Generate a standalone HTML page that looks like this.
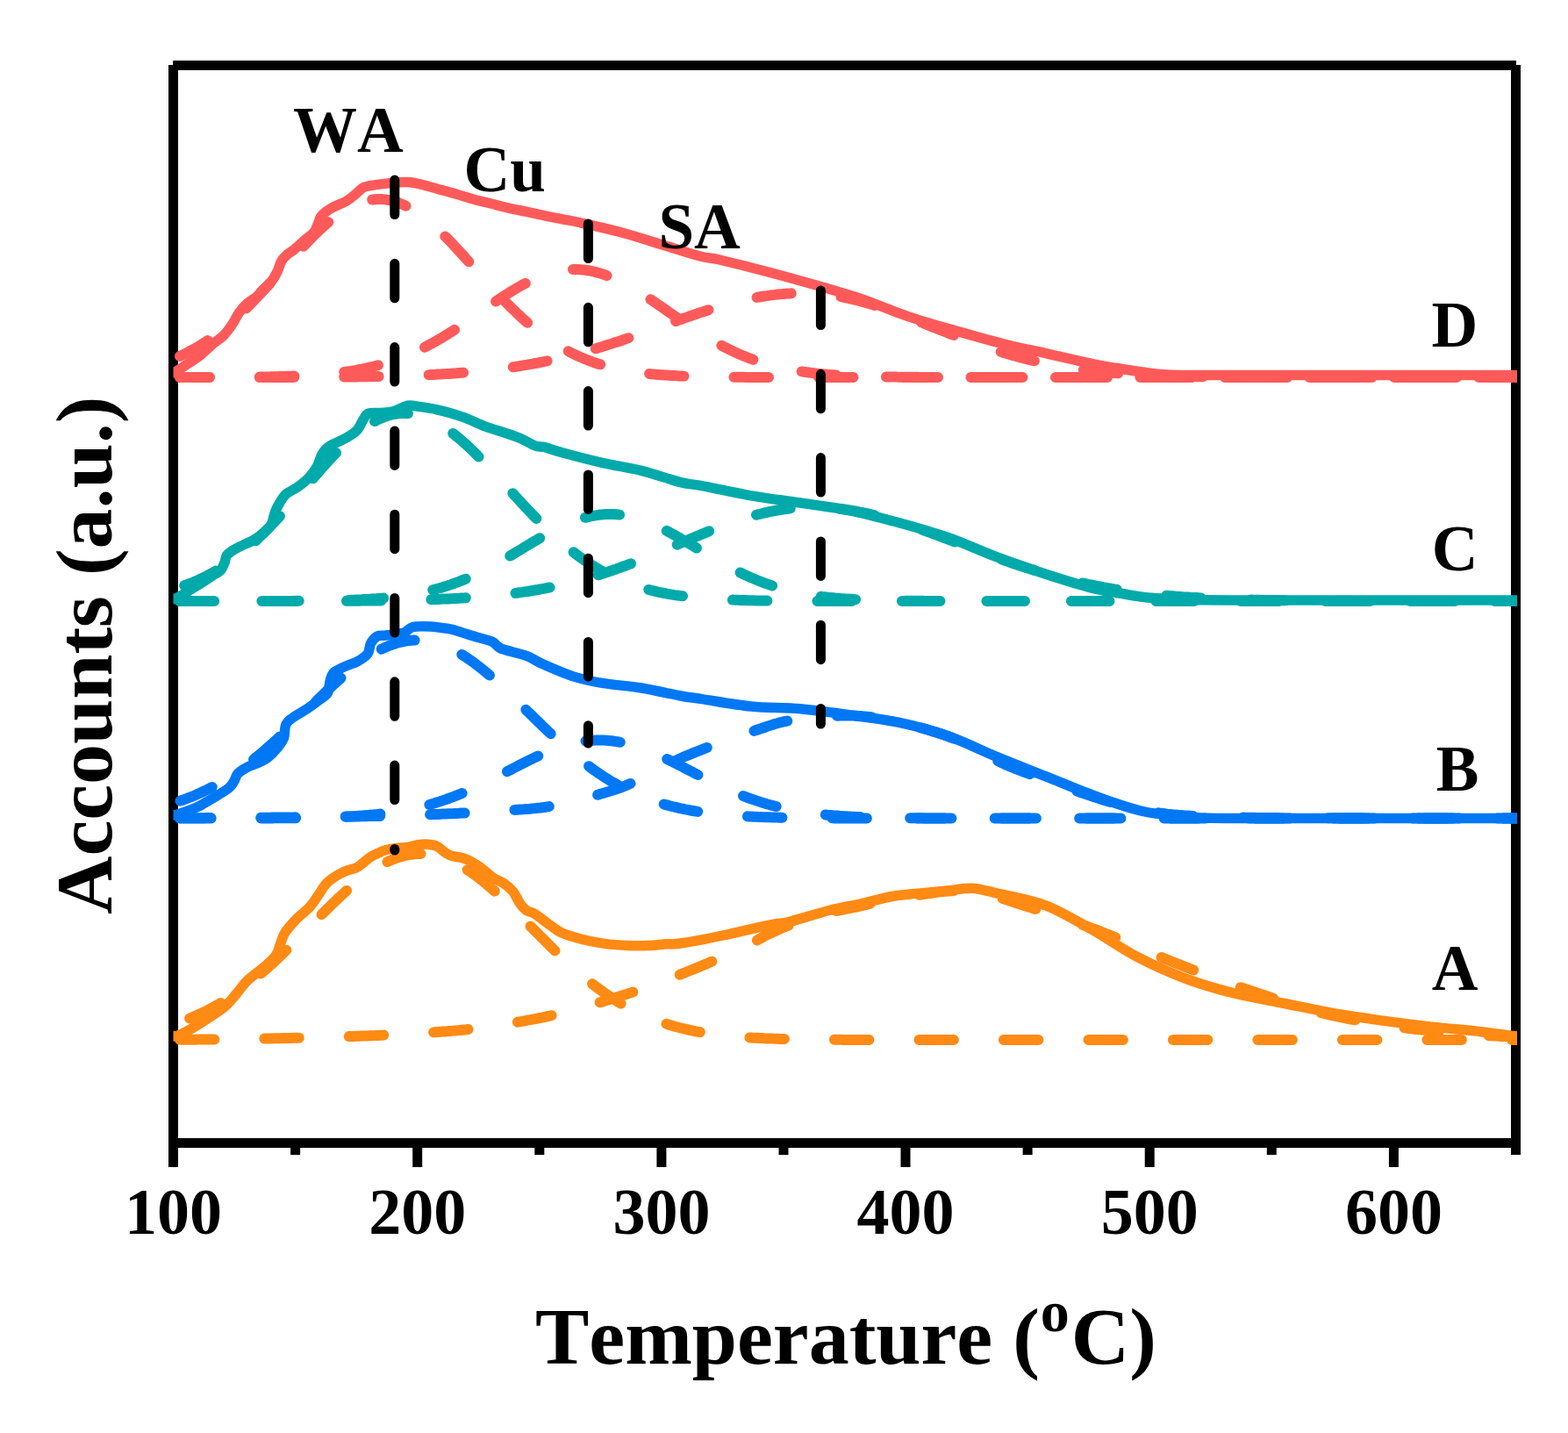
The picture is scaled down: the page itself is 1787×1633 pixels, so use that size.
<!DOCTYPE html>
<html><head><meta charset="utf-8"><title>TPD</title>
<style>html,body{margin:0;padding:0;background:#fff;overflow:hidden;}svg{display:block;} text{font-kerning:none;}</style>
</head><body>
<svg width="1787" height="1633" viewBox="0 0 1787 1633">
<rect width="1787" height="1633" fill="#fff"/>
<rect x="192" y="74" width="11" height="1256" fill="#000"/>
<rect x="197" y="69" width="1531" height="11" fill="#000"/>
<rect x="1722" y="74" width="11" height="1242" fill="#000"/>
<rect x="192" y="1297" width="1541" height="11" fill="#000"/>
<rect x="470.2" y="1302" width="11" height="28" fill="#000"/>
<rect x="748.4" y="1302" width="11" height="28" fill="#000"/>
<rect x="1026.5" y="1302" width="11" height="28" fill="#000"/>
<rect x="1304.7" y="1302" width="11" height="28" fill="#000"/>
<rect x="1582.9" y="1302" width="11" height="28" fill="#000"/>
<rect x="331.1" y="1302" width="11" height="14" fill="#000"/>
<rect x="609.3" y="1302" width="11" height="14" fill="#000"/>
<rect x="887.5" y="1302" width="11" height="14" fill="#000"/>
<rect x="1165.6" y="1302" width="11" height="14" fill="#000"/>
<rect x="1443.8" y="1302" width="11" height="14" fill="#000"/>
<defs><clipPath id="pc"><rect x="197.5" y="60" width="1531.5" height="1260"/></clipPath></defs>
<g fill="none" stroke="#FF8A14" stroke-width="12" clip-path="url(#pc)">
<path stroke-dasharray="39.5 57" stroke-linecap="round" stroke-linejoin="round" stroke-dashoffset="-11.8" d="M205.0,1164.7 L208.0,1163.6 L211.0,1162.5 L214.0,1161.4 L217.0,1160.2 L220.0,1158.9 L223.0,1157.6 L226.0,1156.3 L229.0,1154.9 L232.0,1153.5 L235.0,1152.0 L238.0,1150.5 L241.0,1148.9 L244.0,1147.2 L247.0,1145.6 L250.0,1143.8 L253.0,1142.0 L256.0,1140.2 L259.0,1138.3 L262.0,1136.3 L265.0,1134.3 L268.0,1132.3 L271.0,1130.1 L274.0,1128.0 L277.0,1125.8 L280.0,1123.5 L283.0,1121.2 L286.0,1118.8 L289.0,1116.4 L292.0,1113.9 L295.0,1111.4 L298.0,1108.8 L301.0,1106.2 L304.0,1103.6 L307.0,1100.9 L310.0,1098.2 L313.0,1095.4 L316.0,1092.6 L319.0,1089.7 L322.0,1086.9 L325.0,1084.0 L328.0,1081.0 L331.0,1078.1 L334.0,1075.1 L337.0,1072.1 L340.0,1069.1 L343.0,1066.1 L346.0,1063.0 L349.0,1060.0 L352.0,1056.9 L355.0,1053.9 L358.0,1050.8 L361.0,1047.8 L364.0,1044.8 L367.0,1041.7 L370.0,1038.7 L373.0,1035.8 L376.0,1032.8 L379.0,1029.9 L382.0,1027.0 L385.0,1024.1 L388.0,1021.3 L391.0,1018.6 L394.0,1015.8 L397.0,1013.2 L400.0,1010.6 L403.0,1008.0 L406.0,1005.5 L409.0,1003.1 L412.0,1000.7 L415.0,998.5 L418.0,996.3 L421.0,994.2 L424.0,992.1 L427.0,990.2 L430.0,988.3 L433.0,986.6 L436.0,984.9 L439.0,983.3 L442.0,981.9 L445.0,980.5 L448.0,979.3 L451.0,978.1 L454.0,977.1 L457.0,976.2 L460.0,975.4 L463.0,974.7 L466.0,974.1 L469.0,973.7 L472.0,973.3 L475.0,973.1 L478.0,973.0 L481.0,973.0 L484.0,973.2 L487.0,973.4 L490.0,973.8 L493.0,974.3 L496.0,974.9 L499.0,975.6 L502.0,976.5 L505.0,977.4 L508.0,978.5 L511.0,979.7 L514.0,981.0 L517.0,982.4 L520.0,983.8 L523.0,985.4 L526.0,987.1 L529.0,988.9 L532.0,990.8 L535.0,992.8 L538.0,994.8 L541.0,997.0 L544.0,999.2 L547.0,1001.5 L550.0,1003.9 L553.0,1006.3 L556.0,1008.9 L559.0,1011.4 L562.0,1014.1 L565.0,1016.7 L568.0,1019.5 L571.0,1022.3 L574.0,1025.1 L577.0,1028.0 L580.0,1030.9 L583.0,1033.8 L586.0,1036.8 L589.0,1039.7 L592.0,1042.7 L595.0,1045.8 L598.0,1048.8 L601.0,1051.8 L604.0,1054.9 L607.0,1057.9 L610.0,1061.0 L613.0,1064.0 L616.0,1067.1 L619.0,1070.1 L622.0,1073.1 L625.0,1076.1 L628.0,1079.1 L631.0,1082.0 L634.0,1084.9 L637.0,1087.8 L640.0,1090.7 L643.0,1093.5 L646.0,1096.3 L649.0,1099.1 L652.0,1101.8 L655.0,1104.5 L658.0,1107.1 L661.0,1109.7 L664.0,1112.2 L667.0,1114.7 L670.0,1117.2 L673.0,1119.6 L676.0,1121.9 L679.0,1124.3 L682.0,1126.5 L685.0,1128.7 L688.0,1130.9 L691.0,1132.9 L694.0,1135.0 L697.0,1137.0 L700.0,1138.9 L703.0,1140.8 L706.0,1142.6 L709.0,1144.4 L712.0,1146.1 L715.0,1147.8 L718.0,1149.4 L721.0,1151.0 L724.0,1152.5 L727.0,1154.0 L730.0,1155.4 L733.0,1156.8 L736.0,1158.1 L739.0,1159.4 L742.0,1160.6 L745.0,1161.8 L748.0,1162.9 L751.0,1164.0 L754.0,1165.0 L757.0,1166.1 L760.0,1167.0 L763.0,1167.9 L766.0,1168.8 L769.0,1169.7 L772.0,1170.5 L775.0,1171.3 L778.0,1172.0 L781.0,1172.7 L784.0,1173.4 L787.0,1174.1 L790.0,1174.7 L793.0,1175.3 L796.0,1175.8 L799.0,1176.4 L802.0,1176.9 L805.0,1177.3 L808.0,1177.8 L811.0,1178.2 L814.0,1178.6 L817.0,1179.0 L820.0,1179.4 L823.0,1179.7 L826.0,1180.1 L829.0,1180.4 L832.0,1180.7 L835.0,1181.0 L838.0,1181.2 L841.0,1181.5 L844.0,1181.7 L847.0,1181.9 L850.0,1182.1 L853.0,1182.3 L856.0,1182.5 L859.0,1182.7 L862.0,1182.8 L865.0,1183.0 L868.0,1183.1 L871.0,1183.3 L874.0,1183.4 L877.0,1183.5 L880.0,1183.6 L883.0,1183.7 L886.0,1183.8 L889.0,1183.9 L892.0,1184.0 L895.0,1184.0 L898.0,1184.1 L901.0,1184.2 L904.0,1184.2 L907.0,1184.3 L910.0,1184.4 L913.0,1184.4 L916.0,1184.5 L919.0,1184.5 L922.0,1184.5 L925.0,1184.6 L928.0,1184.6 L931.0,1184.6 L934.0,1184.7 L937.0,1184.7 L940.0,1184.7 L943.0,1184.7 L946.0,1184.8 L949.0,1184.8 L952.0,1184.8 L955.0,1184.8 L958.0,1184.8 L961.0,1184.9 L964.0,1184.9 L967.0,1184.9 L970.0,1184.9 L973.0,1184.9 L976.0,1184.9 L979.0,1184.9 L982.0,1184.9 L985.0,1184.9 L988.0,1184.9 L991.0,1184.9 L994.0,1184.9 L997.0,1185.0 L1000.0,1185.0 L1003.0,1185.0 L1006.0,1185.0 L1009.0,1185.0 L1012.0,1185.0 L1015.0,1185.0 L1018.0,1185.0 L1021.0,1185.0 L1024.0,1185.0 L1027.0,1185.0 L1030.0,1185.0 L1033.0,1185.0 L1036.0,1185.0 L1039.0,1185.0 L1042.0,1185.0 L1045.0,1185.0 L1048.0,1185.0 L1051.0,1185.0 L1054.0,1185.0 L1057.0,1185.0 L1060.0,1185.0 L1063.0,1185.0 L1066.0,1185.0 L1069.0,1185.0 L1072.0,1185.0 L1075.0,1185.0 L1078.0,1185.0 L1081.0,1185.0 L1084.0,1185.0 L1087.0,1185.0 L1090.0,1185.0 L1093.0,1185.0 L1096.0,1185.0 L1099.0,1185.0 L1102.0,1185.0 L1105.0,1185.0 L1108.0,1185.0 L1111.0,1185.0 L1114.0,1185.0 L1117.0,1185.0 L1120.0,1185.0 L1123.0,1185.0 L1126.0,1185.0 L1129.0,1185.0 L1132.0,1185.0 L1135.0,1185.0 L1138.0,1185.0 L1141.0,1185.0 L1144.0,1185.0 L1147.0,1185.0 L1150.0,1185.0 L1153.0,1185.0 L1156.0,1185.0 L1159.0,1185.0 L1162.0,1185.0 L1165.0,1185.0 L1168.0,1185.0 L1171.0,1185.0 L1174.0,1185.0 L1177.0,1185.0 L1180.0,1185.0 L1183.0,1185.0 L1186.0,1185.0 L1189.0,1185.0 L1192.0,1185.0 L1195.0,1185.0 L1198.0,1185.0 L1201.0,1185.0 L1204.0,1185.0 L1207.0,1185.0 L1210.0,1185.0 L1213.0,1185.0 L1216.0,1185.0 L1219.0,1185.0 L1222.0,1185.0 L1225.0,1185.0 L1228.0,1185.0 L1231.0,1185.0 L1234.0,1185.0 L1237.0,1185.0 L1240.0,1185.0 L1243.0,1185.0 L1246.0,1185.0 L1249.0,1185.0 L1252.0,1185.0 L1255.0,1185.0 L1258.0,1185.0 L1261.0,1185.0 L1264.0,1185.0 L1267.0,1185.0 L1270.0,1185.0 L1273.0,1185.0 L1276.0,1185.0 L1279.0,1185.0 L1282.0,1185.0 L1285.0,1185.0 L1288.0,1185.0 L1291.0,1185.0 L1294.0,1185.0 L1297.0,1185.0 L1300.0,1185.0 L1303.0,1185.0 L1306.0,1185.0 L1309.0,1185.0 L1312.0,1185.0 L1315.0,1185.0 L1318.0,1185.0 L1321.0,1185.0 L1324.0,1185.0 L1327.0,1185.0 L1330.0,1185.0 L1333.0,1185.0 L1336.0,1185.0 L1339.0,1185.0 L1342.0,1185.0 L1345.0,1185.0 L1348.0,1185.0 L1351.0,1185.0 L1354.0,1185.0 L1357.0,1185.0 L1360.0,1185.0 L1363.0,1185.0 L1366.0,1185.0 L1369.0,1185.0 L1372.0,1185.0 L1375.0,1185.0 L1378.0,1185.0 L1381.0,1185.0 L1384.0,1185.0 L1387.0,1185.0 L1390.0,1185.0 L1393.0,1185.0 L1396.0,1185.0 L1399.0,1185.0 L1402.0,1185.0 L1405.0,1185.0 L1408.0,1185.0 L1411.0,1185.0 L1414.0,1185.0 L1417.0,1185.0 L1420.0,1185.0 L1423.0,1185.0 L1426.0,1185.0 L1429.0,1185.0 L1432.0,1185.0 L1435.0,1185.0 L1438.0,1185.0 L1441.0,1185.0 L1444.0,1185.0 L1447.0,1185.0 L1450.0,1185.0 L1453.0,1185.0 L1456.0,1185.0 L1459.0,1185.0 L1462.0,1185.0 L1465.0,1185.0 L1468.0,1185.0 L1471.0,1185.0 L1474.0,1185.0 L1477.0,1185.0 L1480.0,1185.0 L1483.0,1185.0 L1486.0,1185.0 L1489.0,1185.0 L1492.0,1185.0 L1495.0,1185.0 L1498.0,1185.0 L1501.0,1185.0 L1504.0,1185.0 L1507.0,1185.0 L1510.0,1185.0 L1513.0,1185.0 L1516.0,1185.0 L1519.0,1185.0 L1522.0,1185.0 L1525.0,1185.0 L1528.0,1185.0 L1531.0,1185.0 L1534.0,1185.0 L1537.0,1185.0 L1540.0,1185.0 L1543.0,1185.0 L1546.0,1185.0 L1549.0,1185.0 L1552.0,1185.0 L1555.0,1185.0 L1558.0,1185.0 L1561.0,1185.0 L1564.0,1185.0 L1567.0,1185.0 L1570.0,1185.0 L1573.0,1185.0 L1576.0,1185.0 L1579.0,1185.0 L1582.0,1185.0 L1585.0,1185.0 L1588.0,1185.0 L1591.0,1185.0 L1594.0,1185.0 L1597.0,1185.0 L1600.0,1185.0 L1603.0,1185.0 L1606.0,1185.0 L1609.0,1185.0 L1612.0,1185.0 L1615.0,1185.0 L1618.0,1185.0 L1621.0,1185.0 L1624.0,1185.0 L1627.0,1185.0 L1630.0,1185.0 L1633.0,1185.0 L1636.0,1185.0 L1639.0,1185.0 L1642.0,1185.0 L1645.0,1185.0 L1648.0,1185.0 L1651.0,1185.0 L1654.0,1185.0 L1657.0,1185.0 L1660.0,1185.0 L1663.0,1185.0 L1666.0,1185.0 L1669.0,1185.0 L1672.0,1185.0 L1675.0,1185.0 L1678.0,1185.0 L1681.0,1185.0 L1684.0,1185.0 L1687.0,1185.0 L1690.0,1185.0 L1693.0,1185.0 L1696.0,1185.0 L1699.0,1185.0 L1702.0,1185.0 L1705.0,1185.0 L1708.0,1185.0 L1711.0,1185.0 L1714.0,1185.0 L1717.0,1185.0 L1720.0,1185.0 L1723.0,1185.0 L1726.0,1185.0 L1729.0,1185.0 L1729.0,1185.0"/>
<path stroke-dasharray="39.5 57" stroke-linecap="round" stroke-linejoin="round" stroke-dashoffset="0.2" d="M205.0,1184.7 L208.0,1184.7 L211.0,1184.7 L214.0,1184.7 L217.0,1184.7 L220.0,1184.7 L223.0,1184.7 L226.0,1184.6 L229.0,1184.6 L232.0,1184.6 L235.0,1184.6 L238.0,1184.6 L241.0,1184.5 L244.0,1184.5 L247.0,1184.5 L250.0,1184.4 L253.0,1184.4 L256.0,1184.4 L259.0,1184.3 L262.0,1184.3 L265.0,1184.2 L268.0,1184.2 L271.0,1184.1 L274.0,1184.1 L277.0,1184.0 L280.0,1184.0 L283.0,1183.9 L286.0,1183.9 L289.0,1183.8 L292.0,1183.8 L295.0,1183.7 L298.0,1183.7 L301.0,1183.6 L304.0,1183.5 L307.0,1183.5 L310.0,1183.4 L313.0,1183.3 L316.0,1183.3 L319.0,1183.2 L322.0,1183.1 L325.0,1183.1 L328.0,1183.0 L331.0,1182.9 L334.0,1182.8 L337.0,1182.8 L340.0,1182.7 L343.0,1182.6 L346.0,1182.5 L349.0,1182.4 L352.0,1182.4 L355.0,1182.3 L358.0,1182.2 L361.0,1182.1 L364.0,1182.0 L367.0,1181.9 L370.0,1181.9 L373.0,1181.8 L376.0,1181.7 L379.0,1181.6 L382.0,1181.5 L385.0,1181.4 L388.0,1181.3 L391.0,1181.3 L394.0,1181.2 L397.0,1181.1 L400.0,1181.0 L403.0,1180.9 L406.0,1180.8 L409.0,1180.7 L412.0,1180.6 L415.0,1180.5 L418.0,1180.4 L421.0,1180.3 L424.0,1180.2 L427.0,1180.1 L430.0,1179.9 L433.0,1179.8 L436.0,1179.7 L439.0,1179.5 L442.0,1179.4 L445.0,1179.3 L448.0,1179.1 L451.0,1179.0 L454.0,1178.8 L457.0,1178.7 L460.0,1178.5 L463.0,1178.3 L466.0,1178.2 L469.0,1178.0 L472.0,1177.8 L475.0,1177.6 L478.0,1177.4 L481.0,1177.3 L484.0,1177.1 L487.0,1176.9 L490.0,1176.7 L493.0,1176.5 L496.0,1176.2 L499.0,1176.0 L502.0,1175.8 L505.0,1175.6 L508.0,1175.4 L511.0,1175.1 L514.0,1174.9 L517.0,1174.6 L520.0,1174.4 L523.0,1174.1 L526.0,1173.8 L529.0,1173.5 L532.0,1173.2 L535.0,1172.8 L538.0,1172.5 L541.0,1172.1 L544.0,1171.7 L547.0,1171.4 L550.0,1171.0 L553.0,1170.5 L556.0,1170.1 L559.0,1169.7 L562.0,1169.3 L565.0,1168.8 L568.0,1168.3 L571.0,1167.9 L574.0,1167.4 L577.0,1166.9 L580.0,1166.4 L583.0,1165.9 L586.0,1165.4 L589.0,1164.9 L592.0,1164.3 L595.0,1163.8 L598.0,1163.3 L601.0,1162.7 L604.0,1162.2 L607.0,1161.6 L610.0,1161.1 L613.0,1160.5 L616.0,1159.9 L619.0,1159.3 L622.0,1158.6 L625.0,1158.0 L628.0,1157.3 L631.0,1156.6 L634.0,1155.9 L637.0,1155.2 L640.0,1154.4 L643.0,1153.7 L646.0,1152.9 L649.0,1152.1 L652.0,1151.3 L655.0,1150.5 L658.0,1149.7 L661.0,1148.9 L664.0,1148.0 L667.0,1147.2 L670.0,1146.3 L673.0,1145.4 L676.0,1144.6 L679.0,1143.7 L682.0,1142.8 L685.0,1141.9 L688.0,1141.0 L691.0,1140.1 L694.0,1139.2 L697.0,1138.3 L700.0,1137.3 L703.0,1136.4 L706.0,1135.5 L709.0,1134.5 L712.0,1133.6 L715.0,1132.6 L718.0,1131.6 L721.0,1130.6 L724.0,1129.6 L727.0,1128.5 L730.0,1127.5 L733.0,1126.4 L736.0,1125.3 L739.0,1124.3 L742.0,1123.2 L745.0,1122.1 L748.0,1121.0 L751.0,1119.8 L754.0,1118.7 L757.0,1117.6 L760.0,1116.4 L763.0,1115.3 L766.0,1114.1 L769.0,1112.9 L772.0,1111.8 L775.0,1110.6 L778.0,1109.4 L781.0,1108.2 L784.0,1107.0 L787.0,1105.8 L790.0,1104.6 L793.0,1103.4 L796.0,1102.1 L799.0,1100.9 L802.0,1099.6 L805.0,1098.4 L808.0,1097.1 L811.0,1095.8 L814.0,1094.5 L817.0,1093.2 L820.0,1091.8 L823.0,1090.5 L826.0,1089.1 L829.0,1087.8 L832.0,1086.4 L835.0,1085.0 L838.0,1083.6 L841.0,1082.2 L844.0,1080.8 L847.0,1079.4 L850.0,1077.9 L853.0,1076.5 L856.0,1075.0 L859.0,1073.5 L862.0,1071.9 L865.0,1070.3 L868.0,1068.6 L871.0,1067.0 L874.0,1065.5 L877.0,1064.0 L880.0,1062.6 L883.0,1061.2 L886.0,1059.8 L889.0,1058.5 L892.0,1057.2 L895.0,1055.9 L898.0,1054.8 L901.0,1053.6 L904.0,1052.5 L907.0,1051.5 L910.0,1050.4 L913.0,1049.4 L916.0,1048.4 L919.0,1047.4 L922.0,1046.4 L925.0,1045.5 L928.0,1044.6 L931.0,1043.7 L934.0,1042.9 L937.0,1042.0 L940.0,1041.2 L943.0,1040.5 L946.0,1039.7 L949.0,1039.0 L952.0,1038.3 L955.0,1037.7 L958.0,1037.1 L961.0,1036.5 L964.0,1035.9 L967.0,1035.3 L970.0,1034.7 L973.0,1034.1 L976.0,1033.5 L979.0,1032.9 L982.0,1032.2 L985.0,1031.5 L988.0,1030.7 L991.0,1030.0 L994.0,1029.2 L997.0,1028.4 L1000.0,1027.6 L1003.0,1026.9 L1006.0,1026.1 L1009.0,1025.4 L1012.0,1024.8 L1015.0,1024.2 L1018.0,1023.7 L1021.0,1023.3 L1024.0,1022.9 L1027.0,1022.5 L1030.0,1022.1 L1033.0,1021.8 L1036.0,1021.4 L1039.0,1021.0 L1042.0,1020.7 L1045.0,1020.3 L1048.0,1019.8 L1051.0,1019.4 L1054.0,1018.9 L1057.0,1018.4 L1060.0,1018.0 L1063.0,1017.5 L1066.0,1017.1 L1069.0,1016.6 L1072.0,1016.3 L1075.0,1015.9 L1078.0,1015.7 L1081.0,1015.4 L1084.0,1015.2 L1087.0,1015.0 L1090.0,1014.8 L1093.0,1014.7 L1096.0,1014.6 L1099.0,1014.5 L1102.0,1014.5 L1105.0,1014.8 L1108.0,1015.2 L1111.0,1015.7 L1114.0,1016.4 L1117.0,1017.1 L1120.0,1017.8 L1123.0,1018.5 L1126.0,1019.2 L1129.0,1020.0 L1132.0,1020.8 L1135.0,1021.6 L1138.0,1022.5 L1141.0,1023.5 L1144.0,1024.4 L1147.0,1025.4 L1150.0,1026.4 L1153.0,1027.4 L1156.0,1028.4 L1159.0,1029.3 L1162.0,1030.3 L1165.0,1031.2 L1168.0,1032.2 L1171.0,1033.1 L1174.0,1034.1 L1177.0,1035.0 L1180.0,1036.0 L1183.0,1036.9 L1186.0,1037.9 L1189.0,1038.9 L1192.0,1039.8 L1195.0,1040.8 L1198.0,1041.8 L1201.0,1042.8 L1204.0,1043.8 L1207.0,1044.8 L1210.0,1045.8 L1213.0,1046.8 L1216.0,1047.8 L1219.0,1048.8 L1222.0,1049.8 L1225.0,1050.9 L1228.0,1051.9 L1231.0,1053.0 L1234.0,1054.0 L1237.0,1055.1 L1240.0,1056.2 L1243.0,1057.3 L1246.0,1058.4 L1249.0,1059.5 L1252.0,1060.6 L1255.0,1061.8 L1258.0,1063.0 L1261.0,1064.2 L1264.0,1065.4 L1267.0,1066.6 L1270.0,1067.8 L1273.0,1069.1 L1276.0,1070.4 L1279.0,1071.7 L1282.0,1073.0 L1285.0,1074.3 L1288.0,1075.6 L1291.0,1076.9 L1294.0,1078.2 L1297.0,1079.5 L1300.0,1080.8 L1303.0,1082.1 L1306.0,1083.4 L1309.0,1084.7 L1312.0,1086.0 L1315.0,1087.3 L1318.0,1088.6 L1321.0,1089.9 L1324.0,1091.1 L1327.0,1092.4 L1330.0,1093.6 L1333.0,1094.8 L1336.0,1096.0 L1339.0,1097.2 L1342.0,1098.4 L1345.0,1099.5 L1348.0,1100.7 L1351.0,1101.9 L1354.0,1103.0 L1357.0,1104.2 L1360.0,1105.4 L1363.0,1106.5 L1366.0,1107.7 L1369.0,1108.8 L1372.0,1110.0 L1375.0,1111.1 L1378.0,1112.2 L1381.0,1113.3 L1384.0,1114.5 L1387.0,1115.6 L1390.0,1116.7 L1393.0,1117.8 L1396.0,1118.9 L1399.0,1120.0 L1402.0,1121.0 L1405.0,1122.1 L1408.0,1123.2 L1411.0,1124.2 L1414.0,1125.3 L1417.0,1126.3 L1420.0,1127.3 L1423.0,1128.3 L1426.0,1129.3 L1429.0,1130.3 L1432.0,1131.3 L1435.0,1132.3 L1438.0,1133.3 L1441.0,1134.3 L1444.0,1135.3 L1447.0,1136.3 L1450.0,1137.3 L1453.0,1138.3 L1456.0,1139.3 L1459.0,1140.3 L1462.0,1141.3 L1465.0,1142.3 L1468.0,1143.2 L1471.0,1144.2 L1474.0,1145.1 L1477.0,1146.1 L1480.0,1147.0 L1483.0,1147.9 L1486.0,1148.8 L1489.0,1149.6 L1492.0,1150.5 L1495.0,1151.3 L1498.0,1152.2 L1501.0,1153.0 L1504.0,1153.7 L1507.0,1154.5 L1510.0,1155.2 L1513.0,1155.9 L1516.0,1156.6 L1519.0,1157.3 L1522.0,1157.9 L1525.0,1158.5 L1528.0,1159.2 L1531.0,1159.8 L1534.0,1160.4 L1537.0,1161.0 L1540.0,1161.6 L1543.0,1162.1 L1546.0,1162.7 L1549.0,1163.3 L1552.0,1163.8 L1555.0,1164.4 L1558.0,1164.9 L1561.0,1165.4 L1564.0,1165.9 L1567.0,1166.4 L1570.0,1166.9 L1573.0,1167.4 L1576.0,1167.9 L1579.0,1168.4 L1582.0,1168.8 L1585.0,1169.2 L1588.0,1169.7 L1591.0,1170.1 L1594.0,1170.5 L1597.0,1170.9 L1600.0,1171.3 L1603.0,1171.6 L1606.0,1172.0 L1609.0,1172.3 L1612.0,1172.7 L1615.0,1173.0 L1618.0,1173.3 L1621.0,1173.6 L1624.0,1173.9 L1627.0,1174.2 L1630.0,1174.5 L1633.0,1174.8 L1636.0,1175.1 L1639.0,1175.4 L1642.0,1175.7 L1645.0,1176.0 L1648.0,1176.3 L1651.0,1176.6 L1654.0,1176.8 L1657.0,1177.1 L1660.0,1177.4 L1663.0,1177.6 L1666.0,1177.9 L1669.0,1178.1 L1672.0,1178.4 L1675.0,1178.6 L1678.0,1178.8 L1681.0,1179.1 L1684.0,1179.3 L1687.0,1179.5 L1690.0,1179.7 L1693.0,1179.9 L1696.0,1180.1 L1699.0,1180.3 L1702.0,1180.4 L1705.0,1180.6 L1708.0,1180.7 L1711.0,1180.9 L1714.0,1181.0 L1717.0,1181.1 L1720.0,1181.3 L1723.0,1181.4 L1726.0,1181.5 L1729.0,1181.5 L1729.0,1181.5"/>
<path stroke-width="11.5" stroke-linejoin="round" stroke-linecap="round" d="M198.0,1180.6 C198.6,1180.6 198.7,1181.8 201.7,1180.6 C204.7,1179.4 210.1,1176.9 216.0,1173.5 C221.9,1170.1 230.3,1164.9 237.0,1160.4 C243.7,1156.0 251.0,1151.4 256.4,1146.8 C261.8,1142.2 265.0,1137.5 269.3,1132.6 C273.6,1127.7 276.9,1122.3 282.2,1117.2 C287.5,1112.1 296.0,1106.4 301.4,1101.7 C306.8,1097.0 311.3,1093.2 314.3,1088.9 C317.3,1084.6 317.7,1080.3 319.4,1076.0 C321.1,1071.7 321.6,1067.9 324.6,1063.2 C327.6,1058.5 332.7,1052.6 337.4,1047.7 C342.1,1042.8 348.6,1038.3 352.9,1033.6 C357.2,1028.9 359.8,1024.1 363.2,1019.4 C366.6,1014.7 368.8,1009.6 373.5,1005.3 C378.2,1001.0 386.1,996.4 391.5,993.7 C396.9,991.0 402.4,990.6 406.0,988.9 C409.6,987.2 410.9,985.5 413.4,983.6 C415.8,981.7 418.2,979.4 420.7,977.7 C423.1,976.0 424.9,975.0 428.1,973.5 C431.3,972.0 436.0,969.7 440.0,968.5 C444.0,967.3 447.8,967.0 452.0,966.5 C456.2,966.0 461.3,966.0 465.2,965.4 C469.1,964.8 471.8,963.5 475.2,962.9 C478.6,962.3 481.9,961.8 485.3,961.9 C488.7,962.0 492.9,962.7 495.4,963.4 C497.9,964.1 498.3,964.5 500.4,965.9 C502.5,967.3 505.5,970.4 508.0,972.0 C510.5,973.6 511.8,974.4 515.5,975.5 C519.2,976.6 525.0,976.6 530.0,978.5 C535.0,980.4 540.1,983.4 545.5,987.0 C550.9,990.6 557.4,997.1 562.3,1000.4 C567.1,1003.7 570.9,1004.4 574.6,1007.0 C578.3,1009.6 581.7,1012.2 584.7,1016.0 C587.7,1019.8 590.0,1025.9 592.5,1029.5 C595.0,1033.1 597.2,1035.6 600.0,1037.6 C602.8,1039.5 604.5,1038.4 609.0,1041.2 C613.5,1044.0 621.7,1050.6 626.9,1054.2 C632.1,1057.8 634.3,1060.4 640.3,1063.1 C646.3,1065.8 654.5,1068.2 662.7,1070.3 C670.9,1072.3 680.5,1074.2 689.5,1075.4 C698.5,1076.6 708.2,1077.2 716.4,1077.6 C724.6,1078.0 731.5,1077.9 738.8,1077.6 C746.1,1077.3 754.6,1076.1 760.0,1075.8 C765.4,1075.5 764.2,1076.4 771.3,1075.5 C778.4,1074.6 793.0,1072.1 802.7,1070.3 C812.4,1068.5 820.5,1066.7 829.5,1064.8 C838.5,1062.9 847.4,1060.7 856.4,1058.7 C865.4,1056.7 875.9,1054.4 883.2,1053.0 C890.5,1051.6 889.7,1052.9 900.0,1050.3 C910.3,1047.7 931.4,1040.9 944.8,1037.5 C958.2,1034.1 968.7,1032.7 980.6,1030.0 C992.5,1027.3 1006.0,1023.4 1016.4,1021.5 C1026.8,1019.6 1032.6,1019.5 1043.2,1018.4 C1053.8,1017.3 1069.0,1016.0 1079.8,1015.0 C1090.6,1014.0 1098.5,1011.7 1107.8,1012.2 C1117.1,1012.7 1121.8,1014.5 1135.8,1017.8 C1149.8,1021.1 1173.7,1024.9 1191.7,1031.8 C1209.7,1038.7 1226.6,1049.2 1244.0,1059.0 C1261.4,1068.8 1278.0,1081.0 1296.0,1090.4 C1314.0,1099.8 1333.3,1108.5 1352.0,1115.5 C1370.7,1122.5 1389.3,1127.6 1407.9,1132.3 C1426.5,1137.0 1445.2,1139.8 1463.8,1143.5 C1482.4,1147.2 1501.1,1151.4 1519.8,1154.7 C1538.5,1158.0 1557.1,1160.5 1575.8,1163.1 C1594.5,1165.7 1613.0,1168.0 1631.7,1170.1 C1650.4,1172.2 1671.8,1173.9 1687.7,1175.7 C1703.6,1177.5 1720.1,1180.1 1727.0,1181.0 C1733.9,1181.9 1728.7,1181.0 1729.0,1181.0"/>
</g>
<g fill="none" stroke="#0078F4" stroke-width="12" clip-path="url(#pc)">
<path stroke-dasharray="39.5 57" stroke-linecap="round" stroke-linejoin="round" stroke-dashoffset="-0.5" d="M205.0,912.8 L208.0,911.8 L211.0,910.7 L214.0,909.5 L217.0,908.4 L220.0,907.2 L223.0,905.9 L226.0,904.6 L229.0,903.2 L232.0,901.8 L235.0,900.4 L238.0,898.9 L241.0,897.3 L244.0,895.7 L247.0,894.0 L250.0,892.3 L253.0,890.6 L256.0,888.8 L259.0,886.9 L262.0,885.0 L265.0,883.0 L268.0,881.0 L271.0,878.9 L274.0,876.8 L277.0,874.6 L280.0,872.4 L283.0,870.1 L286.0,867.8 L289.0,865.4 L292.0,863.0 L295.0,860.5 L298.0,858.0 L301.0,855.5 L304.0,852.9 L307.0,850.2 L310.0,847.6 L313.0,844.8 L316.0,842.1 L319.0,839.3 L322.0,836.5 L325.0,833.7 L328.0,830.8 L331.0,828.0 L334.0,825.1 L337.0,822.1 L340.0,819.2 L343.0,816.3 L346.0,813.3 L349.0,810.4 L352.0,807.4 L355.0,804.5 L358.0,801.5 L361.0,798.6 L364.0,795.6 L367.0,792.7 L370.0,789.8 L373.0,787.0 L376.0,784.2 L379.0,781.3 L382.0,778.6 L385.0,775.9 L388.0,773.2 L391.0,770.5 L394.0,767.9 L397.0,765.4 L400.0,762.9 L403.0,760.5 L406.0,758.2 L409.0,755.9 L412.0,753.7 L415.0,751.6 L418.0,749.5 L421.0,747.6 L424.0,745.7 L427.0,743.9 L430.0,742.2 L433.0,740.6 L436.0,739.1 L439.0,737.7 L442.0,736.5 L445.0,735.3 L448.0,734.2 L451.0,733.2 L454.0,732.3 L457.0,731.6 L460.0,731.0 L463.0,730.4 L466.0,730.0 L469.0,729.7 L472.0,729.6 L475.0,729.5 L478.0,729.6 L481.0,729.7 L484.0,730.0 L487.0,730.4 L490.0,731.0 L493.0,731.6 L496.0,732.3 L499.0,733.2 L502.0,734.2 L505.0,735.3 L508.0,736.5 L511.0,737.7 L514.0,739.1 L517.0,740.6 L520.0,742.2 L523.0,743.9 L526.0,745.7 L529.0,747.6 L532.0,749.5 L535.0,751.6 L538.0,753.7 L541.0,755.9 L544.0,758.2 L547.0,760.5 L550.0,762.9 L553.0,765.4 L556.0,767.9 L559.0,770.5 L562.0,773.2 L565.0,775.9 L568.0,778.6 L571.0,781.3 L574.0,784.2 L577.0,787.0 L580.0,789.8 L583.0,792.7 L586.0,795.6 L589.0,798.6 L592.0,801.5 L595.0,804.5 L598.0,807.4 L601.0,810.4 L604.0,813.3 L607.0,816.3 L610.0,819.2 L613.0,822.1 L616.0,825.1 L619.0,828.0 L622.0,830.8 L625.0,833.7 L628.0,836.5 L631.0,839.3 L634.0,842.1 L637.0,844.8 L640.0,847.6 L643.0,850.2 L646.0,852.9 L649.0,855.5 L652.0,858.0 L655.0,860.5 L658.0,863.0 L661.0,865.4 L664.0,867.8 L667.0,870.1 L670.0,872.4 L673.0,874.6 L676.0,876.8 L679.0,878.9 L682.0,881.0 L685.0,883.0 L688.0,885.0 L691.0,886.9 L694.0,888.8 L697.0,890.6 L700.0,892.3 L703.0,894.0 L706.0,895.7 L709.0,897.3 L712.0,898.9 L715.0,900.4 L718.0,901.8 L721.0,903.2 L724.0,904.6 L727.0,905.9 L730.0,907.2 L733.0,908.4 L736.0,909.5 L739.0,910.7 L742.0,911.8 L745.0,912.8 L748.0,913.8 L751.0,914.8 L754.0,915.7 L757.0,916.6 L760.0,917.4 L763.0,918.2 L766.0,919.0 L769.0,919.7 L772.0,920.4 L775.0,921.1 L778.0,921.7 L781.0,922.4 L784.0,922.9 L787.0,923.5 L790.0,924.0 L793.0,924.5 L796.0,925.0 L799.0,925.4 L802.0,925.9 L805.0,926.3 L808.0,926.7 L811.0,927.0 L814.0,927.4 L817.0,927.7 L820.0,928.0 L823.0,928.3 L826.0,928.6 L829.0,928.8 L832.0,929.1 L835.0,929.3 L838.0,929.5 L841.0,929.7 L844.0,929.9 L847.0,930.1 L850.0,930.2 L853.0,930.4 L856.0,930.5 L859.0,930.7 L862.0,930.8 L865.0,930.9 L868.0,931.1 L871.0,931.2 L874.0,931.3 L877.0,931.3 L880.0,931.4 L883.0,931.5 L886.0,931.6 L889.0,931.7 L892.0,931.7 L895.0,931.8 L898.0,931.8 L901.0,931.9 L904.0,931.9 L907.0,932.0 L910.0,932.0 L913.0,932.1 L916.0,932.1 L919.0,932.1 L922.0,932.2 L925.0,932.2 L928.0,932.2 L931.0,932.2 L934.0,932.3 L937.0,932.3 L940.0,932.3 L943.0,932.3 L946.0,932.3 L949.0,932.3 L952.0,932.4 L955.0,932.4 L958.0,932.4 L961.0,932.4 L964.0,932.4 L967.0,932.4 L970.0,932.4 L973.0,932.4 L976.0,932.4 L979.0,932.4 L982.0,932.4 L985.0,932.5 L988.0,932.5 L991.0,932.5 L994.0,932.5 L997.0,932.5 L1000.0,932.5 L1003.0,932.5 L1006.0,932.5 L1009.0,932.5 L1012.0,932.5 L1015.0,932.5 L1018.0,932.5 L1021.0,932.5 L1024.0,932.5 L1027.0,932.5 L1030.0,932.5 L1033.0,932.5 L1036.0,932.5 L1039.0,932.5 L1042.0,932.5 L1045.0,932.5 L1048.0,932.5 L1051.0,932.5 L1054.0,932.5 L1057.0,932.5 L1060.0,932.5 L1063.0,932.5 L1066.0,932.5 L1069.0,932.5 L1072.0,932.5 L1075.0,932.5 L1078.0,932.5 L1081.0,932.5 L1084.0,932.5 L1087.0,932.5 L1090.0,932.5 L1093.0,932.5 L1096.0,932.5 L1099.0,932.5 L1102.0,932.5 L1105.0,932.5 L1108.0,932.5 L1111.0,932.5 L1114.0,932.5 L1117.0,932.5 L1120.0,932.5 L1123.0,932.5 L1126.0,932.5 L1129.0,932.5 L1132.0,932.5 L1135.0,932.5 L1138.0,932.5 L1141.0,932.5 L1144.0,932.5 L1147.0,932.5 L1150.0,932.5 L1153.0,932.5 L1156.0,932.5 L1159.0,932.5 L1162.0,932.5 L1165.0,932.5 L1168.0,932.5 L1171.0,932.5 L1174.0,932.5 L1177.0,932.5 L1180.0,932.5 L1183.0,932.5 L1186.0,932.5 L1189.0,932.5 L1192.0,932.5 L1195.0,932.5 L1198.0,932.5 L1201.0,932.5 L1204.0,932.5 L1207.0,932.5 L1210.0,932.5 L1213.0,932.5 L1216.0,932.5 L1219.0,932.5 L1222.0,932.5 L1225.0,932.5 L1228.0,932.5 L1231.0,932.5 L1234.0,932.5 L1237.0,932.5 L1240.0,932.5 L1243.0,932.5 L1246.0,932.5 L1249.0,932.5 L1252.0,932.5 L1255.0,932.5 L1258.0,932.5 L1261.0,932.5 L1264.0,932.5 L1267.0,932.5 L1270.0,932.5 L1273.0,932.5 L1276.0,932.5 L1279.0,932.5 L1282.0,932.5 L1285.0,932.5 L1288.0,932.5 L1291.0,932.5 L1294.0,932.5 L1297.0,932.5 L1300.0,932.5 L1303.0,932.5 L1306.0,932.5 L1309.0,932.5 L1312.0,932.5 L1315.0,932.5 L1318.0,932.5 L1321.0,932.5 L1324.0,932.5 L1327.0,932.5 L1330.0,932.5 L1333.0,932.5 L1336.0,932.5 L1339.0,932.5 L1342.0,932.5 L1345.0,932.5 L1348.0,932.5 L1351.0,932.5 L1354.0,932.5 L1357.0,932.5 L1360.0,932.5 L1363.0,932.5 L1366.0,932.5 L1369.0,932.5 L1372.0,932.5 L1375.0,932.5 L1378.0,932.5 L1381.0,932.5 L1384.0,932.5 L1387.0,932.5 L1390.0,932.5 L1393.0,932.5 L1396.0,932.5 L1399.0,932.5 L1402.0,932.5 L1405.0,932.5 L1408.0,932.5 L1411.0,932.5 L1414.0,932.5 L1417.0,932.5 L1420.0,932.5 L1423.0,932.5 L1426.0,932.5 L1429.0,932.5 L1432.0,932.5 L1435.0,932.5 L1438.0,932.5 L1441.0,932.5 L1444.0,932.5 L1447.0,932.5 L1450.0,932.5 L1453.0,932.5 L1456.0,932.5 L1459.0,932.5 L1462.0,932.5 L1465.0,932.5 L1468.0,932.5 L1471.0,932.5 L1474.0,932.5 L1477.0,932.5 L1480.0,932.5 L1483.0,932.5 L1486.0,932.5 L1489.0,932.5 L1492.0,932.5 L1495.0,932.5 L1498.0,932.5 L1501.0,932.5 L1504.0,932.5 L1507.0,932.5 L1510.0,932.5 L1513.0,932.5 L1516.0,932.5 L1519.0,932.5 L1522.0,932.5 L1525.0,932.5 L1528.0,932.5 L1531.0,932.5 L1534.0,932.5 L1537.0,932.5 L1540.0,932.5 L1543.0,932.5 L1546.0,932.5 L1549.0,932.5 L1552.0,932.5 L1555.0,932.5 L1558.0,932.5 L1561.0,932.5 L1564.0,932.5 L1567.0,932.5 L1570.0,932.5 L1573.0,932.5 L1576.0,932.5 L1579.0,932.5 L1582.0,932.5 L1585.0,932.5 L1588.0,932.5 L1591.0,932.5 L1594.0,932.5 L1597.0,932.5 L1600.0,932.5 L1603.0,932.5 L1606.0,932.5 L1609.0,932.5 L1612.0,932.5 L1615.0,932.5 L1618.0,932.5 L1621.0,932.5 L1624.0,932.5 L1627.0,932.5 L1630.0,932.5 L1633.0,932.5 L1636.0,932.5 L1639.0,932.5 L1642.0,932.5 L1645.0,932.5 L1648.0,932.5 L1651.0,932.5 L1654.0,932.5 L1657.0,932.5 L1660.0,932.5 L1663.0,932.5 L1666.0,932.5 L1669.0,932.5 L1672.0,932.5 L1675.0,932.5 L1678.0,932.5 L1681.0,932.5 L1684.0,932.5 L1687.0,932.5 L1690.0,932.5 L1693.0,932.5 L1696.0,932.5 L1699.0,932.5 L1702.0,932.5 L1705.0,932.5 L1708.0,932.5 L1711.0,932.5 L1714.0,932.5 L1717.0,932.5 L1720.0,932.5 L1723.0,932.5 L1726.0,932.5 L1729.0,932.5 L1729.0,932.5"/>
<path stroke-dasharray="39.5 57" stroke-linecap="round" stroke-linejoin="round" stroke-dashoffset="3.9" d="M205.0,932.5 L208.0,932.5 L211.0,932.5 L214.0,932.5 L217.0,932.5 L220.0,932.5 L223.0,932.5 L226.0,932.5 L229.0,932.5 L232.0,932.5 L235.0,932.5 L238.0,932.5 L241.0,932.5 L244.0,932.5 L247.0,932.5 L250.0,932.5 L253.0,932.5 L256.0,932.5 L259.0,932.5 L262.0,932.5 L265.0,932.5 L268.0,932.5 L271.0,932.5 L274.0,932.5 L277.0,932.5 L280.0,932.5 L283.0,932.4 L286.0,932.4 L289.0,932.4 L292.0,932.4 L295.0,932.4 L298.0,932.4 L301.0,932.4 L304.0,932.4 L307.0,932.4 L310.0,932.4 L313.0,932.3 L316.0,932.3 L319.0,932.3 L322.0,932.3 L325.0,932.3 L328.0,932.2 L331.0,932.2 L334.0,932.2 L337.0,932.2 L340.0,932.1 L343.0,932.1 L346.0,932.0 L349.0,932.0 L352.0,932.0 L355.0,931.9 L358.0,931.8 L361.0,931.8 L364.0,931.7 L367.0,931.6 L370.0,931.6 L373.0,931.5 L376.0,931.4 L379.0,931.3 L382.0,931.2 L385.0,931.1 L388.0,930.9 L391.0,930.8 L394.0,930.7 L397.0,930.5 L400.0,930.4 L403.0,930.2 L406.0,930.0 L409.0,929.8 L412.0,929.6 L415.0,929.3 L418.0,929.1 L421.0,928.8 L424.0,928.6 L427.0,928.3 L430.0,928.0 L433.0,927.6 L436.0,927.3 L439.0,926.9 L442.0,926.5 L445.0,926.1 L448.0,925.7 L451.0,925.2 L454.0,924.7 L457.0,924.2 L460.0,923.7 L463.0,923.1 L466.0,922.5 L469.0,921.9 L472.0,921.3 L475.0,920.6 L478.0,919.9 L481.0,919.2 L484.0,918.4 L487.0,917.6 L490.0,916.8 L493.0,915.9 L496.0,915.0 L499.0,914.1 L502.0,913.1 L505.0,912.1 L508.0,911.1 L511.0,910.0 L514.0,908.9 L517.0,907.8 L520.0,906.6 L523.0,905.4 L526.0,904.2 L529.0,903.0 L532.0,901.7 L535.0,900.4 L538.0,899.0 L541.0,897.6 L544.0,896.3 L547.0,894.8 L550.0,893.4 L553.0,891.9 L556.0,890.5 L559.0,889.0 L562.0,887.4 L565.0,885.9 L568.0,884.4 L571.0,882.8 L574.0,881.3 L577.0,879.7 L580.0,878.2 L583.0,876.6 L586.0,875.0 L589.0,873.5 L592.0,871.9 L595.0,870.4 L598.0,868.9 L601.0,867.4 L604.0,865.9 L607.0,864.5 L610.0,863.0 L613.0,861.6 L616.0,860.3 L619.0,858.9 L622.0,857.6 L625.0,856.4 L628.0,855.2 L631.0,854.0 L634.0,852.9 L637.0,851.8 L640.0,850.8 L643.0,849.9 L646.0,849.0 L649.0,848.2 L652.0,847.4 L655.0,846.7 L658.0,846.0 L661.0,845.5 L664.0,845.0 L667.0,844.6 L670.0,844.2 L673.0,843.9 L676.0,843.7 L679.0,843.6 L682.0,843.5 L685.0,843.5 L688.0,843.6 L691.0,843.8 L694.0,844.0 L697.0,844.3 L700.0,844.7 L703.0,845.1 L706.0,845.7 L709.0,846.3 L712.0,846.9 L715.0,847.6 L718.0,848.4 L721.0,849.3 L724.0,850.2 L727.0,851.2 L730.0,852.2 L733.0,853.3 L736.0,854.4 L739.0,855.6 L742.0,856.8 L745.0,858.1 L748.0,859.4 L751.0,860.7 L754.0,862.1 L757.0,863.5 L760.0,864.9 L763.0,866.4 L766.0,867.9 L769.0,869.4 L772.0,870.9 L775.0,872.5 L778.0,874.0 L781.0,875.6 L784.0,877.1 L787.0,878.7 L790.0,880.2 L793.0,881.8 L796.0,883.3 L799.0,884.9 L802.0,886.4 L805.0,888.0 L808.0,889.5 L811.0,891.0 L814.0,892.4 L817.0,893.9 L820.0,895.3 L823.0,896.7 L826.0,898.1 L829.0,899.5 L832.0,900.8 L835.0,902.1 L838.0,903.4 L841.0,904.6 L844.0,905.8 L847.0,907.0 L850.0,908.2 L853.0,909.3 L856.0,910.4 L859.0,911.4 L862.0,912.4 L865.0,913.4 L868.0,914.4 L871.0,915.3 L874.0,916.2 L877.0,917.0 L880.0,917.9 L883.0,918.6 L886.0,919.4 L889.0,920.1 L892.0,920.8 L895.0,921.5 L898.0,922.1 L901.0,922.7 L904.0,923.3 L907.0,923.9 L910.0,924.4 L913.0,924.9 L916.0,925.4 L919.0,925.8 L922.0,926.2 L925.0,926.7 L928.0,927.0 L931.0,927.4 L934.0,927.7 L937.0,928.1 L940.0,928.4 L943.0,928.7 L946.0,928.9 L949.0,929.2 L952.0,929.4 L955.0,929.6 L958.0,929.9 L961.0,930.1 L964.0,930.2 L967.0,930.4 L970.0,930.6 L973.0,930.7 L976.0,930.9 L979.0,931.0 L982.0,931.1 L985.0,931.2 L988.0,931.3 L991.0,931.4 L994.0,931.5 L997.0,931.6 L1000.0,931.7 L1003.0,931.7 L1006.0,931.8 L1009.0,931.9 L1012.0,931.9 L1015.0,932.0 L1018.0,932.0 L1021.0,932.1 L1024.0,932.1 L1027.0,932.1 L1030.0,932.2 L1033.0,932.2 L1036.0,932.2 L1039.0,932.3 L1042.0,932.3 L1045.0,932.3 L1048.0,932.3 L1051.0,932.3 L1054.0,932.4 L1057.0,932.4 L1060.0,932.4 L1063.0,932.4 L1066.0,932.4 L1069.0,932.4 L1072.0,932.4 L1075.0,932.4 L1078.0,932.4 L1081.0,932.4 L1084.0,932.4 L1087.0,932.5 L1090.0,932.5 L1093.0,932.5 L1096.0,932.5 L1099.0,932.5 L1102.0,932.5 L1105.0,932.5 L1108.0,932.5 L1111.0,932.5 L1114.0,932.5 L1117.0,932.5 L1120.0,932.5 L1123.0,932.5 L1126.0,932.5 L1129.0,932.5 L1132.0,932.5 L1135.0,932.5 L1138.0,932.5 L1141.0,932.5 L1144.0,932.5 L1147.0,932.5 L1150.0,932.5 L1153.0,932.5 L1156.0,932.5 L1159.0,932.5 L1162.0,932.5 L1165.0,932.5 L1168.0,932.5 L1171.0,932.5 L1174.0,932.5 L1177.0,932.5 L1180.0,932.5 L1183.0,932.5 L1186.0,932.5 L1189.0,932.5 L1192.0,932.5 L1195.0,932.5 L1198.0,932.5 L1201.0,932.5 L1204.0,932.5 L1207.0,932.5 L1210.0,932.5 L1213.0,932.5 L1216.0,932.5 L1219.0,932.5 L1222.0,932.5 L1225.0,932.5 L1228.0,932.5 L1231.0,932.5 L1234.0,932.5 L1237.0,932.5 L1240.0,932.5 L1243.0,932.5 L1246.0,932.5 L1249.0,932.5 L1252.0,932.5 L1255.0,932.5 L1258.0,932.5 L1261.0,932.5 L1264.0,932.5 L1267.0,932.5 L1270.0,932.5 L1273.0,932.5 L1276.0,932.5 L1279.0,932.5 L1282.0,932.5 L1285.0,932.5 L1288.0,932.5 L1291.0,932.5 L1294.0,932.5 L1297.0,932.5 L1300.0,932.5 L1303.0,932.5 L1306.0,932.5 L1309.0,932.5 L1312.0,932.5 L1315.0,932.5 L1318.0,932.5 L1321.0,932.5 L1324.0,932.5 L1327.0,932.5 L1330.0,932.5 L1333.0,932.5 L1336.0,932.5 L1339.0,932.5 L1342.0,932.5 L1345.0,932.5 L1348.0,932.5 L1351.0,932.5 L1354.0,932.5 L1357.0,932.5 L1360.0,932.5 L1363.0,932.5 L1366.0,932.5 L1369.0,932.5 L1372.0,932.5 L1375.0,932.5 L1378.0,932.5 L1381.0,932.5 L1384.0,932.5 L1387.0,932.5 L1390.0,932.5 L1393.0,932.5 L1396.0,932.5 L1399.0,932.5 L1402.0,932.5 L1405.0,932.5 L1408.0,932.5 L1411.0,932.5 L1414.0,932.5 L1417.0,932.5 L1420.0,932.5 L1423.0,932.5 L1426.0,932.5 L1429.0,932.5 L1432.0,932.5 L1435.0,932.5 L1438.0,932.5 L1441.0,932.5 L1444.0,932.5 L1447.0,932.5 L1450.0,932.5 L1453.0,932.5 L1456.0,932.5 L1459.0,932.5 L1462.0,932.5 L1465.0,932.5 L1468.0,932.5 L1471.0,932.5 L1474.0,932.5 L1477.0,932.5 L1480.0,932.5 L1483.0,932.5 L1486.0,932.5 L1489.0,932.5 L1492.0,932.5 L1495.0,932.5 L1498.0,932.5 L1501.0,932.5 L1504.0,932.5 L1507.0,932.5 L1510.0,932.5 L1513.0,932.5 L1516.0,932.5 L1519.0,932.5 L1522.0,932.5 L1525.0,932.5 L1528.0,932.5 L1531.0,932.5 L1534.0,932.5 L1537.0,932.5 L1540.0,932.5 L1543.0,932.5 L1546.0,932.5 L1549.0,932.5 L1552.0,932.5 L1555.0,932.5 L1558.0,932.5 L1561.0,932.5 L1564.0,932.5 L1567.0,932.5 L1570.0,932.5 L1573.0,932.5 L1576.0,932.5 L1579.0,932.5 L1582.0,932.5 L1585.0,932.5 L1588.0,932.5 L1591.0,932.5 L1594.0,932.5 L1597.0,932.5 L1600.0,932.5 L1603.0,932.5 L1606.0,932.5 L1609.0,932.5 L1612.0,932.5 L1615.0,932.5 L1618.0,932.5 L1621.0,932.5 L1624.0,932.5 L1627.0,932.5 L1630.0,932.5 L1633.0,932.5 L1636.0,932.5 L1639.0,932.5 L1642.0,932.5 L1645.0,932.5 L1648.0,932.5 L1651.0,932.5 L1654.0,932.5 L1657.0,932.5 L1660.0,932.5 L1663.0,932.5 L1666.0,932.5 L1669.0,932.5 L1672.0,932.5 L1675.0,932.5 L1678.0,932.5 L1681.0,932.5 L1684.0,932.5 L1687.0,932.5 L1690.0,932.5 L1693.0,932.5 L1696.0,932.5 L1699.0,932.5 L1702.0,932.5 L1705.0,932.5 L1708.0,932.5 L1711.0,932.5 L1714.0,932.5 L1717.0,932.5 L1720.0,932.5 L1723.0,932.5 L1726.0,932.5 L1729.0,932.5 L1729.0,932.5"/>
<path stroke-dasharray="39.5 57" stroke-linecap="round" stroke-linejoin="round" stroke-dashoffset="4.3" d="M205.0,932.2 L208.0,932.2 L211.0,932.2 L214.0,932.2 L217.0,932.2 L220.0,932.2 L223.0,932.2 L226.0,932.2 L229.0,932.2 L232.0,932.2 L235.0,932.1 L238.0,932.1 L241.0,932.1 L244.0,932.1 L247.0,932.1 L250.0,932.1 L253.0,932.1 L256.0,932.1 L259.0,932.0 L262.0,932.0 L265.0,932.0 L268.0,932.0 L271.0,932.0 L274.0,931.9 L277.0,931.9 L280.0,931.9 L283.0,931.9 L286.0,931.8 L289.0,931.8 L292.0,931.8 L295.0,931.8 L298.0,931.7 L301.0,931.7 L304.0,931.7 L307.0,931.7 L310.0,931.6 L313.0,931.6 L316.0,931.6 L319.0,931.5 L322.0,931.5 L325.0,931.5 L328.0,931.4 L331.0,931.4 L334.0,931.4 L337.0,931.3 L340.0,931.3 L343.0,931.3 L346.0,931.2 L349.0,931.2 L352.0,931.2 L355.0,931.1 L358.0,931.1 L361.0,931.0 L364.0,931.0 L367.0,931.0 L370.0,930.9 L373.0,930.9 L376.0,930.8 L379.0,930.8 L382.0,930.8 L385.0,930.7 L388.0,930.7 L391.0,930.6 L394.0,930.6 L397.0,930.5 L400.0,930.5 L403.0,930.5 L406.0,930.4 L409.0,930.4 L412.0,930.3 L415.0,930.3 L418.0,930.2 L421.0,930.1 L424.0,930.1 L427.0,930.0 L430.0,930.0 L433.0,929.9 L436.0,929.8 L439.0,929.8 L442.0,929.7 L445.0,929.6 L448.0,929.5 L451.0,929.5 L454.0,929.4 L457.0,929.3 L460.0,929.2 L463.0,929.1 L466.0,929.0 L469.0,928.9 L472.0,928.8 L475.0,928.7 L478.0,928.6 L481.0,928.5 L484.0,928.4 L487.0,928.3 L490.0,928.2 L493.0,928.1 L496.0,928.0 L499.0,927.9 L502.0,927.7 L505.0,927.6 L508.0,927.5 L511.0,927.3 L514.0,927.2 L517.0,927.1 L520.0,926.9 L523.0,926.8 L526.0,926.6 L529.0,926.5 L532.0,926.3 L535.0,926.2 L538.0,926.0 L541.0,925.9 L544.0,925.7 L547.0,925.5 L550.0,925.4 L553.0,925.2 L556.0,925.0 L559.0,924.8 L562.0,924.6 L565.0,924.4 L568.0,924.2 L571.0,924.1 L574.0,923.9 L577.0,923.6 L580.0,923.4 L583.0,923.2 L586.0,923.0 L589.0,922.8 L592.0,922.6 L595.0,922.4 L598.0,922.1 L601.0,921.9 L604.0,921.7 L607.0,921.4 L610.0,921.1 L613.0,920.8 L616.0,920.5 L619.0,920.1 L622.0,919.7 L625.0,919.2 L628.0,918.7 L631.0,918.2 L634.0,917.6 L637.0,917.0 L640.0,916.4 L643.0,915.8 L646.0,915.1 L649.0,914.4 L652.0,913.7 L655.0,913.0 L658.0,912.2 L661.0,911.4 L664.0,910.6 L667.0,909.8 L670.0,909.0 L673.0,908.1 L676.0,907.2 L679.0,906.4 L682.0,905.5 L685.0,904.6 L688.0,903.7 L691.0,902.8 L694.0,901.9 L697.0,900.9 L700.0,900.0 L703.0,899.0 L706.0,898.0 L709.0,896.9 L712.0,895.7 L715.0,894.4 L718.0,893.1 L721.0,891.8 L724.0,890.4 L727.0,888.9 L730.0,887.5 L733.0,886.0 L736.0,884.4 L739.0,882.9 L742.0,881.3 L745.0,879.7 L748.0,878.1 L751.0,876.5 L754.0,875.0 L757.0,873.4 L760.0,871.8 L763.0,870.3 L766.0,868.8 L769.0,867.3 L772.0,865.9 L775.0,864.5 L778.0,863.1 L781.0,861.8 L784.0,860.6 L787.0,859.4 L790.0,858.1 L793.0,856.9 L796.0,855.8 L799.0,854.6 L802.0,853.4 L805.0,852.2 L808.0,851.1 L811.0,849.9 L814.0,848.8 L817.0,847.7 L820.0,846.6 L823.0,845.5 L826.0,844.4 L829.0,843.3 L832.0,842.2 L835.0,841.2 L838.0,840.1 L841.0,839.1 L844.0,838.0 L847.0,837.0 L850.0,836.0 L853.0,835.0 L856.0,834.0 L859.0,833.0 L862.0,832.0 L865.0,831.0 L868.0,830.0 L871.0,829.0 L874.0,827.9 L877.0,826.9 L880.0,826.0 L883.0,825.0 L886.0,824.2 L889.0,823.3 L892.0,822.6 L895.0,822.0 L898.0,821.4 L901.0,820.9 L904.0,820.3 L907.0,819.8 L910.0,819.3 L913.0,818.8 L916.0,818.4 L919.0,818.0 L922.0,817.6 L925.0,817.3 L928.0,817.0 L931.0,816.7 L934.0,816.6 L937.0,816.4 L940.0,816.3 L943.0,816.1 L946.0,816.0 L949.0,815.9 L952.0,815.8 L955.0,815.7 L958.0,815.6 L961.0,815.6 L964.0,815.5 L967.0,815.5 L970.0,815.5 L973.0,815.6 L976.0,815.7 L979.0,815.9 L982.0,816.1 L985.0,816.4 L988.0,816.7 L991.0,817.0 L994.0,817.3 L997.0,817.7 L1000.0,818.0 L1003.0,818.4 L1006.0,818.8 L1009.0,819.4 L1012.0,819.9 L1015.0,820.5 L1018.0,821.2 L1021.0,821.8 L1024.0,822.5 L1027.0,823.2 L1030.0,823.9 L1033.0,824.7 L1036.0,825.5 L1039.0,826.3 L1042.0,827.1 L1045.0,828.0 L1048.0,828.9 L1051.0,829.8 L1054.0,830.7 L1057.0,831.6 L1060.0,832.5 L1063.0,833.4 L1066.0,834.3 L1069.0,835.3 L1072.0,836.2 L1075.0,837.2 L1078.0,838.3 L1081.0,839.4 L1084.0,840.5 L1087.0,841.7 L1090.0,843.0 L1093.0,844.3 L1096.0,845.7 L1099.0,847.0 L1102.0,848.4 L1105.0,849.9 L1108.0,851.5 L1111.0,853.1 L1114.0,854.7 L1117.0,856.3 L1120.0,858.0 L1123.0,859.6 L1126.0,861.3 L1129.0,862.9 L1132.0,864.5 L1135.0,866.0 L1138.0,867.5 L1141.0,868.9 L1144.0,870.4 L1147.0,871.8 L1150.0,873.1 L1153.0,874.3 L1156.0,875.5 L1159.0,876.7 L1162.0,877.8 L1165.0,879.0 L1168.0,880.0 L1171.0,881.1 L1174.0,882.2 L1177.0,883.2 L1180.0,884.3 L1183.0,885.3 L1186.0,886.4 L1189.0,887.4 L1192.0,888.5 L1195.0,889.6 L1198.0,890.7 L1201.0,891.8 L1204.0,892.9 L1207.0,894.0 L1210.0,895.1 L1213.0,896.3 L1216.0,897.4 L1219.0,898.5 L1222.0,899.6 L1225.0,900.7 L1228.0,901.7 L1231.0,902.8 L1234.0,903.9 L1237.0,904.9 L1240.0,905.9 L1243.0,906.9 L1246.0,907.9 L1249.0,908.8 L1252.0,909.8 L1255.0,910.7 L1258.0,911.7 L1261.0,912.6 L1264.0,913.6 L1267.0,914.5 L1270.0,915.5 L1273.0,916.4 L1276.0,917.2 L1279.0,918.1 L1282.0,918.9 L1285.0,919.7 L1288.0,920.5 L1291.0,921.2 L1294.0,921.8 L1297.0,922.5 L1300.0,923.0 L1303.0,923.5 L1306.0,924.0 L1309.0,924.5 L1312.0,925.0 L1315.0,925.5 L1318.0,925.9 L1321.0,926.4 L1324.0,926.8 L1327.0,927.2 L1330.0,927.6 L1333.0,927.9 L1336.0,928.3 L1339.0,928.6 L1342.0,928.8 L1345.0,929.1 L1348.0,929.3 L1351.0,929.5 L1354.0,929.6 L1357.0,929.7 L1360.0,929.9 L1363.0,930.0 L1366.0,930.1 L1369.0,930.2 L1372.0,930.3 L1375.0,930.4 L1378.0,930.6 L1381.0,930.7 L1384.0,930.8 L1387.0,930.9 L1390.0,930.9 L1393.0,931.0 L1396.0,931.1 L1399.0,931.2 L1402.0,931.3 L1405.0,931.4 L1408.0,931.4 L1411.0,931.5 L1414.0,931.6 L1417.0,931.6 L1420.0,931.7 L1423.0,931.7 L1426.0,931.8 L1429.0,931.8 L1432.0,931.9 L1435.0,931.9 L1438.0,931.9 L1441.0,931.9 L1444.0,932.0 L1447.0,932.0 L1450.0,932.0 L1453.0,932.0 L1456.0,932.0 L1459.0,932.0 L1462.0,932.0 L1465.0,932.1 L1468.0,932.1 L1471.0,932.1 L1474.0,932.1 L1477.0,932.1 L1480.0,932.1 L1483.0,932.1 L1486.0,932.1 L1489.0,932.1 L1492.0,932.1 L1495.0,932.2 L1498.0,932.2 L1501.0,932.2 L1504.0,932.2 L1507.0,932.2 L1510.0,932.2 L1513.0,932.2 L1516.0,932.2 L1519.0,932.2 L1522.0,932.2 L1525.0,932.2 L1528.0,932.3 L1531.0,932.3 L1534.0,932.3 L1537.0,932.3 L1540.0,932.3 L1543.0,932.3 L1546.0,932.3 L1549.0,932.3 L1552.0,932.3 L1555.0,932.3 L1558.0,932.3 L1561.0,932.3 L1564.0,932.3 L1567.0,932.3 L1570.0,932.3 L1573.0,932.4 L1576.0,932.4 L1579.0,932.4 L1582.0,932.4 L1585.0,932.4 L1588.0,932.4 L1591.0,932.4 L1594.0,932.4 L1597.0,932.4 L1600.0,932.4 L1603.0,932.4 L1606.0,932.4 L1609.0,932.4 L1612.0,932.4 L1615.0,932.4 L1618.0,932.4 L1621.0,932.4 L1624.0,932.4 L1627.0,932.4 L1630.0,932.4 L1633.0,932.4 L1636.0,932.5 L1639.0,932.5 L1642.0,932.5 L1645.0,932.5 L1648.0,932.5 L1651.0,932.5 L1654.0,932.5 L1657.0,932.5 L1660.0,932.5 L1663.0,932.5 L1666.0,932.5 L1669.0,932.5 L1672.0,932.5 L1675.0,932.5 L1678.0,932.5 L1681.0,932.5 L1684.0,932.5 L1687.0,932.5 L1690.0,932.5 L1693.0,932.5 L1696.0,932.5 L1699.0,932.5 L1702.0,932.5 L1705.0,932.5 L1708.0,932.5 L1711.0,932.5 L1714.0,932.5 L1717.0,932.5 L1720.0,932.5 L1723.0,932.5 L1726.0,932.5 L1729.0,932.5 L1729.0,932.5"/>
<path stroke-width="11.5" stroke-linejoin="round" stroke-linecap="round" d="M198.0,928.5 C198.5,928.5 196.9,929.8 201.0,928.5 C205.1,927.2 216.9,923.1 222.4,920.8 C227.9,918.5 229.6,917.1 234.2,914.5 C238.8,911.9 245.3,908.0 249.9,905.1 C254.5,902.2 258.7,899.9 261.6,897.3 C264.5,894.7 265.5,892.1 267.1,889.5 C268.7,886.9 268.6,884.1 271.0,881.6 C273.4,879.1 277.5,876.6 281.2,874.6 C284.9,872.6 289.1,871.7 293.0,869.9 C296.9,868.1 300.8,866.6 304.7,863.6 C308.6,860.6 313.4,855.6 316.5,851.8 C319.6,848.0 321.9,845.3 323.5,840.9 C325.1,836.5 323.9,829.4 326.0,825.3 C328.1,821.2 331.9,819.2 335.8,816.4 C339.7,813.6 344.7,811.3 349.2,808.3 C353.7,805.3 358.7,801.6 362.7,798.5 C366.7,795.4 371.2,793.2 373.4,789.5 C375.6,785.8 374.9,780.0 376.1,776.1 C377.3,772.2 377.6,769.0 380.6,766.2 C383.6,763.4 389.5,761.2 394.0,759.1 C398.5,757.0 403.2,756.1 407.4,753.7 C411.6,751.3 416.6,748.2 419.1,744.8 C421.6,741.4 420.8,736.4 422.6,733.1 C424.4,729.8 426.9,726.6 429.8,725.1 C432.7,723.6 435.0,724.7 440.1,724.0 C445.2,723.3 455.2,722.5 460.3,720.9 C465.4,719.3 465.4,715.7 470.4,714.5 C475.4,713.3 483.8,713.6 490.5,713.9 C497.2,714.2 505.7,715.6 510.7,716.4 C515.7,717.2 515.7,717.4 520.7,718.9 C525.7,720.4 534.2,723.2 540.9,725.3 C547.6,727.4 556.0,729.0 561.0,731.3 C566.0,733.6 564.6,736.4 571.1,739.1 C577.6,741.8 592.0,744.4 600.0,747.4 C608.0,750.4 610.2,753.1 619.0,757.0 C627.8,760.9 641.4,767.0 652.6,770.6 C663.8,774.2 673.1,776.2 686.2,778.4 C699.3,780.6 716.1,781.6 731.0,784.0 C745.9,786.4 764.3,790.9 775.8,793.0 C787.3,795.1 786.6,794.6 800.0,796.6 C813.4,798.6 837.3,803.1 856.0,805.0 C874.7,806.9 893.4,806.2 912.0,807.8 C930.6,809.4 949.3,812.2 967.9,814.8 C986.5,817.4 1005.1,819.2 1023.8,823.2 C1042.5,827.2 1061.1,832.0 1079.8,838.5 C1098.5,845.0 1117.1,854.6 1135.8,862.3 C1154.5,870.0 1173.0,877.2 1191.7,884.7 C1210.4,892.2 1229.7,900.5 1247.7,907.0 C1265.8,913.5 1282.6,920.0 1300.0,924.0 C1317.4,928.0 1334.0,929.3 1352.0,930.7 C1370.0,932.1 1345.4,932.2 1408.0,932.5 C1470.6,932.8 1674.0,932.5 1727.5,932.5 C1781.0,932.5 1728.8,932.5 1729.0,932.5"/>
</g>
<g fill="none" stroke="#00AAAA" stroke-width="12" clip-path="url(#pc)">
<path stroke-dasharray="39.5 57" stroke-linecap="round" stroke-linejoin="round" stroke-dashoffset="-5.4" d="M205.0,669.0 L208.0,668.0 L211.0,666.9 L214.0,665.8 L217.0,664.7 L220.0,663.5 L223.0,662.2 L226.0,660.9 L229.0,659.5 L232.0,658.1 L235.0,656.6 L238.0,655.0 L241.0,653.4 L244.0,651.7 L247.0,649.9 L250.0,648.1 L253.0,646.2 L256.0,644.3 L259.0,642.2 L262.0,640.2 L265.0,638.0 L268.0,635.8 L271.0,633.5 L274.0,631.1 L277.0,628.7 L280.0,626.2 L283.0,623.6 L286.0,621.0 L289.0,618.3 L292.0,615.5 L295.0,612.7 L298.0,609.8 L301.0,606.9 L304.0,603.9 L307.0,600.8 L310.0,597.7 L313.0,594.6 L316.0,591.4 L319.0,588.1 L322.0,584.8 L325.0,581.5 L328.0,578.1 L331.0,574.8 L334.0,571.3 L337.0,567.9 L340.0,564.5 L343.0,561.0 L346.0,557.5 L349.0,554.0 L352.0,550.6 L355.0,547.1 L358.0,543.6 L361.0,540.2 L364.0,536.8 L367.0,533.4 L370.0,530.0 L373.0,526.7 L376.0,523.5 L379.0,520.2 L382.0,517.1 L385.0,514.0 L388.0,510.9 L391.0,508.0 L394.0,505.1 L397.0,502.3 L400.0,499.6 L403.0,497.0 L406.0,494.5 L409.0,492.1 L412.0,489.8 L415.0,487.6 L418.0,485.5 L421.0,483.6 L424.0,481.8 L427.0,480.1 L430.0,478.5 L433.0,477.1 L436.0,475.9 L439.0,474.7 L442.0,473.7 L445.0,472.9 L448.0,472.2 L451.0,471.7 L454.0,471.3 L457.0,471.1 L460.0,471.0 L463.0,471.1 L466.0,471.3 L469.0,471.6 L472.0,472.1 L475.0,472.7 L478.0,473.5 L481.0,474.4 L484.0,475.4 L487.0,476.5 L490.0,477.8 L493.0,479.2 L496.0,480.7 L499.0,482.4 L502.0,484.1 L505.0,486.0 L508.0,488.0 L511.0,490.1 L514.0,492.3 L517.0,494.6 L520.0,497.0 L523.0,499.4 L526.0,502.0 L529.0,504.6 L532.0,507.3 L535.0,510.1 L538.0,513.0 L541.0,515.9 L544.0,518.9 L547.0,521.9 L550.0,525.0 L553.0,528.1 L556.0,531.3 L559.0,534.5 L562.0,537.7 L565.0,541.0 L568.0,544.2 L571.0,547.5 L574.0,550.8 L577.0,554.1 L580.0,557.4 L583.0,560.7 L586.0,564.0 L589.0,567.3 L592.0,570.5 L595.0,573.8 L598.0,577.0 L601.0,580.2 L604.0,583.4 L607.0,586.5 L610.0,589.6 L613.0,592.7 L616.0,595.7 L619.0,598.7 L622.0,601.6 L625.0,604.5 L628.0,607.3 L631.0,610.1 L634.0,612.8 L637.0,615.5 L640.0,618.1 L643.0,620.7 L646.0,623.2 L649.0,625.7 L652.0,628.0 L655.0,630.4 L658.0,632.6 L661.0,634.8 L664.0,637.0 L667.0,639.1 L670.0,641.1 L673.0,643.0 L676.0,644.9 L679.0,646.8 L682.0,648.5 L685.0,650.3 L688.0,651.9 L691.0,653.5 L694.0,655.0 L697.0,656.5 L700.0,658.0 L703.0,659.3 L706.0,660.6 L709.0,661.9 L712.0,663.1 L715.0,664.3 L718.0,665.4 L721.0,666.5 L724.0,667.5 L727.0,668.5 L730.0,669.4 L733.0,670.3 L736.0,671.1 L739.0,671.9 L742.0,672.7 L745.0,673.4 L748.0,674.1 L751.0,674.8 L754.0,675.4 L757.0,676.0 L760.0,676.6 L763.0,677.1 L766.0,677.6 L769.0,678.1 L772.0,678.5 L775.0,678.9 L778.0,679.3 L781.0,679.7 L784.0,680.1 L787.0,680.4 L790.0,680.7 L793.0,681.0 L796.0,681.3 L799.0,681.5 L802.0,681.8 L805.0,682.0 L808.0,682.2 L811.0,682.4 L814.0,682.6 L817.0,682.8 L820.0,683.0 L823.0,683.1 L826.0,683.3 L829.0,683.4 L832.0,683.5 L835.0,683.6 L838.0,683.7 L841.0,683.8 L844.0,683.9 L847.0,684.0 L850.0,684.1 L853.0,684.2 L856.0,684.2 L859.0,684.3 L862.0,684.4 L865.0,684.4 L868.0,684.5 L871.0,684.5 L874.0,684.5 L877.0,684.6 L880.0,684.6 L883.0,684.7 L886.0,684.7 L889.0,684.7 L892.0,684.7 L895.0,684.8 L898.0,684.8 L901.0,684.8 L904.0,684.8 L907.0,684.8 L910.0,684.9 L913.0,684.9 L916.0,684.9 L919.0,684.9 L922.0,684.9 L925.0,684.9 L928.0,684.9 L931.0,684.9 L934.0,684.9 L937.0,684.9 L940.0,684.9 L943.0,685.0 L946.0,685.0 L949.0,685.0 L952.0,685.0 L955.0,685.0 L958.0,685.0 L961.0,685.0 L964.0,685.0 L967.0,685.0 L970.0,685.0 L973.0,685.0 L976.0,685.0 L979.0,685.0 L982.0,685.0 L985.0,685.0 L988.0,685.0 L991.0,685.0 L994.0,685.0 L997.0,685.0 L1000.0,685.0 L1003.0,685.0 L1006.0,685.0 L1009.0,685.0 L1012.0,685.0 L1015.0,685.0 L1018.0,685.0 L1021.0,685.0 L1024.0,685.0 L1027.0,685.0 L1030.0,685.0 L1033.0,685.0 L1036.0,685.0 L1039.0,685.0 L1042.0,685.0 L1045.0,685.0 L1048.0,685.0 L1051.0,685.0 L1054.0,685.0 L1057.0,685.0 L1060.0,685.0 L1063.0,685.0 L1066.0,685.0 L1069.0,685.0 L1072.0,685.0 L1075.0,685.0 L1078.0,685.0 L1081.0,685.0 L1084.0,685.0 L1087.0,685.0 L1090.0,685.0 L1093.0,685.0 L1096.0,685.0 L1099.0,685.0 L1102.0,685.0 L1105.0,685.0 L1108.0,685.0 L1111.0,685.0 L1114.0,685.0 L1117.0,685.0 L1120.0,685.0 L1123.0,685.0 L1126.0,685.0 L1129.0,685.0 L1132.0,685.0 L1135.0,685.0 L1138.0,685.0 L1141.0,685.0 L1144.0,685.0 L1147.0,685.0 L1150.0,685.0 L1153.0,685.0 L1156.0,685.0 L1159.0,685.0 L1162.0,685.0 L1165.0,685.0 L1168.0,685.0 L1171.0,685.0 L1174.0,685.0 L1177.0,685.0 L1180.0,685.0 L1183.0,685.0 L1186.0,685.0 L1189.0,685.0 L1192.0,685.0 L1195.0,685.0 L1198.0,685.0 L1201.0,685.0 L1204.0,685.0 L1207.0,685.0 L1210.0,685.0 L1213.0,685.0 L1216.0,685.0 L1219.0,685.0 L1222.0,685.0 L1225.0,685.0 L1228.0,685.0 L1231.0,685.0 L1234.0,685.0 L1237.0,685.0 L1240.0,685.0 L1243.0,685.0 L1246.0,685.0 L1249.0,685.0 L1252.0,685.0 L1255.0,685.0 L1258.0,685.0 L1261.0,685.0 L1264.0,685.0 L1267.0,685.0 L1270.0,685.0 L1273.0,685.0 L1276.0,685.0 L1279.0,685.0 L1282.0,685.0 L1285.0,685.0 L1288.0,685.0 L1291.0,685.0 L1294.0,685.0 L1297.0,685.0 L1300.0,685.0 L1303.0,685.0 L1306.0,685.0 L1309.0,685.0 L1312.0,685.0 L1315.0,685.0 L1318.0,685.0 L1321.0,685.0 L1324.0,685.0 L1327.0,685.0 L1330.0,685.0 L1333.0,685.0 L1336.0,685.0 L1339.0,685.0 L1342.0,685.0 L1345.0,685.0 L1348.0,685.0 L1351.0,685.0 L1354.0,685.0 L1357.0,685.0 L1360.0,685.0 L1363.0,685.0 L1366.0,685.0 L1369.0,685.0 L1372.0,685.0 L1375.0,685.0 L1378.0,685.0 L1381.0,685.0 L1384.0,685.0 L1387.0,685.0 L1390.0,685.0 L1393.0,685.0 L1396.0,685.0 L1399.0,685.0 L1402.0,685.0 L1405.0,685.0 L1408.0,685.0 L1411.0,685.0 L1414.0,685.0 L1417.0,685.0 L1420.0,685.0 L1423.0,685.0 L1426.0,685.0 L1429.0,685.0 L1432.0,685.0 L1435.0,685.0 L1438.0,685.0 L1441.0,685.0 L1444.0,685.0 L1447.0,685.0 L1450.0,685.0 L1453.0,685.0 L1456.0,685.0 L1459.0,685.0 L1462.0,685.0 L1465.0,685.0 L1468.0,685.0 L1471.0,685.0 L1474.0,685.0 L1477.0,685.0 L1480.0,685.0 L1483.0,685.0 L1486.0,685.0 L1489.0,685.0 L1492.0,685.0 L1495.0,685.0 L1498.0,685.0 L1501.0,685.0 L1504.0,685.0 L1507.0,685.0 L1510.0,685.0 L1513.0,685.0 L1516.0,685.0 L1519.0,685.0 L1522.0,685.0 L1525.0,685.0 L1528.0,685.0 L1531.0,685.0 L1534.0,685.0 L1537.0,685.0 L1540.0,685.0 L1543.0,685.0 L1546.0,685.0 L1549.0,685.0 L1552.0,685.0 L1555.0,685.0 L1558.0,685.0 L1561.0,685.0 L1564.0,685.0 L1567.0,685.0 L1570.0,685.0 L1573.0,685.0 L1576.0,685.0 L1579.0,685.0 L1582.0,685.0 L1585.0,685.0 L1588.0,685.0 L1591.0,685.0 L1594.0,685.0 L1597.0,685.0 L1600.0,685.0 L1603.0,685.0 L1606.0,685.0 L1609.0,685.0 L1612.0,685.0 L1615.0,685.0 L1618.0,685.0 L1621.0,685.0 L1624.0,685.0 L1627.0,685.0 L1630.0,685.0 L1633.0,685.0 L1636.0,685.0 L1639.0,685.0 L1642.0,685.0 L1645.0,685.0 L1648.0,685.0 L1651.0,685.0 L1654.0,685.0 L1657.0,685.0 L1660.0,685.0 L1663.0,685.0 L1666.0,685.0 L1669.0,685.0 L1672.0,685.0 L1675.0,685.0 L1678.0,685.0 L1681.0,685.0 L1684.0,685.0 L1687.0,685.0 L1690.0,685.0 L1693.0,685.0 L1696.0,685.0 L1699.0,685.0 L1702.0,685.0 L1705.0,685.0 L1708.0,685.0 L1711.0,685.0 L1714.0,685.0 L1717.0,685.0 L1720.0,685.0 L1723.0,685.0 L1726.0,685.0 L1729.0,685.0 L1729.0,685.0"/>
<path stroke-dasharray="39.5 57" stroke-linecap="round" stroke-linejoin="round" stroke-dashoffset="0.3" d="M205.0,685.0 L208.0,685.0 L211.0,685.0 L214.0,685.0 L217.0,685.0 L220.0,685.0 L223.0,685.0 L226.0,685.0 L229.0,685.0 L232.0,685.0 L235.0,685.0 L238.0,685.0 L241.0,685.0 L244.0,685.0 L247.0,685.0 L250.0,685.0 L253.0,685.0 L256.0,685.0 L259.0,685.0 L262.0,685.0 L265.0,685.0 L268.0,685.0 L271.0,685.0 L274.0,685.0 L277.0,685.0 L280.0,685.0 L283.0,685.0 L286.0,685.0 L289.0,685.0 L292.0,685.0 L295.0,685.0 L298.0,685.0 L301.0,685.0 L304.0,685.0 L307.0,685.0 L310.0,684.9 L313.0,684.9 L316.0,684.9 L319.0,684.9 L322.0,684.9 L325.0,684.9 L328.0,684.9 L331.0,684.9 L334.0,684.9 L337.0,684.8 L340.0,684.8 L343.0,684.8 L346.0,684.8 L349.0,684.8 L352.0,684.7 L355.0,684.7 L358.0,684.7 L361.0,684.6 L364.0,684.6 L367.0,684.6 L370.0,684.5 L373.0,684.5 L376.0,684.4 L379.0,684.4 L382.0,684.3 L385.0,684.2 L388.0,684.2 L391.0,684.1 L394.0,684.0 L397.0,683.9 L400.0,683.8 L403.0,683.7 L406.0,683.5 L409.0,683.4 L412.0,683.3 L415.0,683.1 L418.0,682.9 L421.0,682.8 L424.0,682.6 L427.0,682.4 L430.0,682.1 L433.0,681.9 L436.0,681.7 L439.0,681.4 L442.0,681.1 L445.0,680.8 L448.0,680.5 L451.0,680.1 L454.0,679.7 L457.0,679.3 L460.0,678.9 L463.0,678.5 L466.0,678.0 L469.0,677.5 L472.0,677.0 L475.0,676.4 L478.0,675.8 L481.0,675.2 L484.0,674.5 L487.0,673.9 L490.0,673.1 L493.0,672.4 L496.0,671.6 L499.0,670.8 L502.0,669.9 L505.0,669.0 L508.0,668.1 L511.0,667.1 L514.0,666.1 L517.0,665.0 L520.0,663.9 L523.0,662.8 L526.0,661.6 L529.0,660.4 L532.0,659.1 L535.0,657.8 L538.0,656.5 L541.0,655.1 L544.0,653.7 L547.0,652.3 L550.0,650.8 L553.0,649.2 L556.0,647.7 L559.0,646.1 L562.0,644.5 L565.0,642.8 L568.0,641.2 L571.0,639.5 L574.0,637.7 L577.0,636.0 L580.0,634.2 L583.0,632.5 L586.0,630.7 L589.0,628.9 L592.0,627.1 L595.0,625.3 L598.0,623.4 L601.0,621.6 L604.0,619.8 L607.0,618.0 L610.0,616.3 L613.0,614.5 L616.0,612.8 L619.0,611.0 L622.0,609.4 L625.0,607.7 L628.0,606.1 L631.0,604.5 L634.0,603.0 L637.0,601.5 L640.0,600.0 L643.0,598.6 L646.0,597.3 L649.0,596.0 L652.0,594.8 L655.0,593.7 L658.0,592.6 L661.0,591.6 L664.0,590.7 L667.0,589.8 L670.0,589.1 L673.0,588.4 L676.0,587.8 L679.0,587.3 L682.0,586.8 L685.0,586.5 L688.0,586.2 L691.0,586.1 L694.0,586.0 L697.0,586.0 L700.0,586.1 L703.0,586.3 L706.0,586.6 L709.0,587.0 L712.0,587.4 L715.0,588.0 L718.0,588.6 L721.0,589.3 L724.0,590.1 L727.0,591.0 L730.0,591.9 L733.0,593.0 L736.0,594.1 L739.0,595.2 L742.0,596.5 L745.0,597.7 L748.0,599.1 L751.0,600.5 L754.0,602.0 L757.0,603.5 L760.0,605.0 L763.0,606.6 L766.0,608.3 L769.0,609.9 L772.0,611.6 L775.0,613.3 L778.0,615.1 L781.0,616.9 L784.0,618.6 L787.0,620.4 L790.0,622.2 L793.0,624.0 L796.0,625.9 L799.0,627.7 L802.0,629.5 L805.0,631.3 L808.0,633.1 L811.0,634.8 L814.0,636.6 L817.0,638.3 L820.0,640.0 L823.0,641.7 L826.0,643.4 L829.0,645.0 L832.0,646.6 L835.0,648.2 L838.0,649.8 L841.0,651.3 L844.0,652.7 L847.0,654.2 L850.0,655.6 L853.0,656.9 L856.0,658.3 L859.0,659.5 L862.0,660.8 L865.0,662.0 L868.0,663.2 L871.0,664.3 L874.0,665.4 L877.0,666.4 L880.0,667.4 L883.0,668.4 L886.0,669.3 L889.0,670.2 L892.0,671.1 L895.0,671.9 L898.0,672.6 L901.0,673.4 L904.0,674.1 L907.0,674.8 L910.0,675.4 L913.0,676.0 L916.0,676.6 L919.0,677.1 L922.0,677.7 L925.0,678.2 L928.0,678.6 L931.0,679.1 L934.0,679.5 L937.0,679.9 L940.0,680.2 L943.0,680.6 L946.0,680.9 L949.0,681.2 L952.0,681.5 L955.0,681.7 L958.0,682.0 L961.0,682.2 L964.0,682.4 L967.0,682.6 L970.0,682.8 L973.0,683.0 L976.0,683.2 L979.0,683.3 L982.0,683.5 L985.0,683.6 L988.0,683.7 L991.0,683.8 L994.0,683.9 L997.0,684.0 L1000.0,684.1 L1003.0,684.2 L1006.0,684.3 L1009.0,684.3 L1012.0,684.4 L1015.0,684.4 L1018.0,684.5 L1021.0,684.5 L1024.0,684.6 L1027.0,684.6 L1030.0,684.7 L1033.0,684.7 L1036.0,684.7 L1039.0,684.7 L1042.0,684.8 L1045.0,684.8 L1048.0,684.8 L1051.0,684.8 L1054.0,684.9 L1057.0,684.9 L1060.0,684.9 L1063.0,684.9 L1066.0,684.9 L1069.0,684.9 L1072.0,684.9 L1075.0,684.9 L1078.0,684.9 L1081.0,684.9 L1084.0,685.0 L1087.0,685.0 L1090.0,685.0 L1093.0,685.0 L1096.0,685.0 L1099.0,685.0 L1102.0,685.0 L1105.0,685.0 L1108.0,685.0 L1111.0,685.0 L1114.0,685.0 L1117.0,685.0 L1120.0,685.0 L1123.0,685.0 L1126.0,685.0 L1129.0,685.0 L1132.0,685.0 L1135.0,685.0 L1138.0,685.0 L1141.0,685.0 L1144.0,685.0 L1147.0,685.0 L1150.0,685.0 L1153.0,685.0 L1156.0,685.0 L1159.0,685.0 L1162.0,685.0 L1165.0,685.0 L1168.0,685.0 L1171.0,685.0 L1174.0,685.0 L1177.0,685.0 L1180.0,685.0 L1183.0,685.0 L1186.0,685.0 L1189.0,685.0 L1192.0,685.0 L1195.0,685.0 L1198.0,685.0 L1201.0,685.0 L1204.0,685.0 L1207.0,685.0 L1210.0,685.0 L1213.0,685.0 L1216.0,685.0 L1219.0,685.0 L1222.0,685.0 L1225.0,685.0 L1228.0,685.0 L1231.0,685.0 L1234.0,685.0 L1237.0,685.0 L1240.0,685.0 L1243.0,685.0 L1246.0,685.0 L1249.0,685.0 L1252.0,685.0 L1255.0,685.0 L1258.0,685.0 L1261.0,685.0 L1264.0,685.0 L1267.0,685.0 L1270.0,685.0 L1273.0,685.0 L1276.0,685.0 L1279.0,685.0 L1282.0,685.0 L1285.0,685.0 L1288.0,685.0 L1291.0,685.0 L1294.0,685.0 L1297.0,685.0 L1300.0,685.0 L1303.0,685.0 L1306.0,685.0 L1309.0,685.0 L1312.0,685.0 L1315.0,685.0 L1318.0,685.0 L1321.0,685.0 L1324.0,685.0 L1327.0,685.0 L1330.0,685.0 L1333.0,685.0 L1336.0,685.0 L1339.0,685.0 L1342.0,685.0 L1345.0,685.0 L1348.0,685.0 L1351.0,685.0 L1354.0,685.0 L1357.0,685.0 L1360.0,685.0 L1363.0,685.0 L1366.0,685.0 L1369.0,685.0 L1372.0,685.0 L1375.0,685.0 L1378.0,685.0 L1381.0,685.0 L1384.0,685.0 L1387.0,685.0 L1390.0,685.0 L1393.0,685.0 L1396.0,685.0 L1399.0,685.0 L1402.0,685.0 L1405.0,685.0 L1408.0,685.0 L1411.0,685.0 L1414.0,685.0 L1417.0,685.0 L1420.0,685.0 L1423.0,685.0 L1426.0,685.0 L1429.0,685.0 L1432.0,685.0 L1435.0,685.0 L1438.0,685.0 L1441.0,685.0 L1444.0,685.0 L1447.0,685.0 L1450.0,685.0 L1453.0,685.0 L1456.0,685.0 L1459.0,685.0 L1462.0,685.0 L1465.0,685.0 L1468.0,685.0 L1471.0,685.0 L1474.0,685.0 L1477.0,685.0 L1480.0,685.0 L1483.0,685.0 L1486.0,685.0 L1489.0,685.0 L1492.0,685.0 L1495.0,685.0 L1498.0,685.0 L1501.0,685.0 L1504.0,685.0 L1507.0,685.0 L1510.0,685.0 L1513.0,685.0 L1516.0,685.0 L1519.0,685.0 L1522.0,685.0 L1525.0,685.0 L1528.0,685.0 L1531.0,685.0 L1534.0,685.0 L1537.0,685.0 L1540.0,685.0 L1543.0,685.0 L1546.0,685.0 L1549.0,685.0 L1552.0,685.0 L1555.0,685.0 L1558.0,685.0 L1561.0,685.0 L1564.0,685.0 L1567.0,685.0 L1570.0,685.0 L1573.0,685.0 L1576.0,685.0 L1579.0,685.0 L1582.0,685.0 L1585.0,685.0 L1588.0,685.0 L1591.0,685.0 L1594.0,685.0 L1597.0,685.0 L1600.0,685.0 L1603.0,685.0 L1606.0,685.0 L1609.0,685.0 L1612.0,685.0 L1615.0,685.0 L1618.0,685.0 L1621.0,685.0 L1624.0,685.0 L1627.0,685.0 L1630.0,685.0 L1633.0,685.0 L1636.0,685.0 L1639.0,685.0 L1642.0,685.0 L1645.0,685.0 L1648.0,685.0 L1651.0,685.0 L1654.0,685.0 L1657.0,685.0 L1660.0,685.0 L1663.0,685.0 L1666.0,685.0 L1669.0,685.0 L1672.0,685.0 L1675.0,685.0 L1678.0,685.0 L1681.0,685.0 L1684.0,685.0 L1687.0,685.0 L1690.0,685.0 L1693.0,685.0 L1696.0,685.0 L1699.0,685.0 L1702.0,685.0 L1705.0,685.0 L1708.0,685.0 L1711.0,685.0 L1714.0,685.0 L1717.0,685.0 L1720.0,685.0 L1723.0,685.0 L1726.0,685.0 L1729.0,685.0 L1729.0,685.0"/>
<path stroke-dasharray="39.5 57" stroke-linecap="round" stroke-linejoin="round" stroke-dashoffset="3.1" d="M205.0,685.0 L208.0,685.0 L211.0,685.0 L214.0,685.0 L217.0,685.0 L220.0,685.0 L223.0,685.0 L226.0,685.0 L229.0,685.0 L232.0,685.0 L235.0,685.0 L238.0,685.0 L241.0,685.0 L244.0,685.0 L247.0,685.0 L250.0,685.0 L253.0,685.0 L256.0,685.0 L259.0,685.0 L262.0,685.0 L265.0,685.0 L268.0,685.0 L271.0,685.0 L274.0,685.0 L277.0,685.0 L280.0,685.0 L283.0,685.0 L286.0,685.0 L289.0,685.0 L292.0,685.0 L295.0,685.0 L298.0,685.0 L301.0,685.0 L304.0,685.0 L307.0,685.0 L310.0,685.0 L313.0,685.0 L316.0,685.0 L319.0,685.0 L322.0,685.0 L325.0,685.0 L328.0,685.0 L331.0,684.9 L334.0,684.9 L337.0,684.9 L340.0,684.9 L343.0,684.9 L346.0,684.9 L349.0,684.9 L352.0,684.9 L355.0,684.9 L358.0,684.9 L361.0,684.9 L364.0,684.9 L367.0,684.9 L370.0,684.9 L373.0,684.9 L376.0,684.8 L379.0,684.8 L382.0,684.8 L385.0,684.8 L388.0,684.8 L391.0,684.8 L394.0,684.8 L397.0,684.7 L400.0,684.7 L403.0,684.7 L406.0,684.7 L409.0,684.7 L412.0,684.6 L415.0,684.6 L418.0,684.6 L421.0,684.6 L424.0,684.5 L427.0,684.5 L430.0,684.5 L433.0,684.4 L436.0,684.4 L439.0,684.4 L442.0,684.3 L445.0,684.3 L448.0,684.2 L451.0,684.2 L454.0,684.1 L457.0,684.1 L460.0,684.0 L463.0,683.9 L466.0,683.9 L469.0,683.8 L472.0,683.7 L475.0,683.7 L478.0,683.6 L481.0,683.5 L484.0,683.4 L487.0,683.3 L490.0,683.2 L493.0,683.1 L496.0,683.0 L499.0,682.9 L502.0,682.8 L505.0,682.6 L508.0,682.5 L511.0,682.4 L514.0,682.2 L517.0,682.1 L520.0,681.9 L523.0,681.8 L526.0,681.6 L529.0,681.4 L532.0,681.2 L535.0,681.0 L538.0,680.8 L541.0,680.6 L544.0,680.4 L547.0,680.1 L550.0,679.9 L553.0,679.6 L556.0,679.4 L559.0,679.1 L562.0,678.8 L565.0,678.5 L568.0,678.2 L571.0,677.9 L574.0,677.6 L577.0,677.2 L580.0,676.9 L583.0,676.5 L586.0,676.1 L589.0,675.7 L592.0,675.3 L595.0,674.9 L598.0,674.4 L601.0,674.0 L604.0,673.5 L607.0,673.0 L610.0,672.5 L613.0,672.0 L616.0,671.4 L619.0,670.9 L622.0,670.3 L625.0,669.7 L628.0,669.1 L631.0,668.5 L634.0,667.9 L637.0,667.2 L640.0,666.6 L643.0,665.9 L646.0,665.1 L649.0,664.4 L652.0,663.7 L655.0,662.9 L658.0,662.1 L661.0,661.3 L664.0,660.5 L667.0,659.7 L670.0,658.8 L673.0,657.9 L676.0,657.0 L679.0,656.1 L682.0,655.2 L685.0,654.2 L688.0,653.3 L691.0,652.3 L694.0,651.3 L697.0,650.3 L700.0,649.2 L703.0,648.2 L706.0,647.1 L709.0,646.0 L712.0,644.9 L715.0,643.8 L718.0,642.7 L721.0,641.5 L724.0,640.4 L727.0,639.2 L730.0,638.0 L733.0,636.8 L736.0,635.6 L739.0,634.4 L742.0,633.2 L745.0,631.9 L748.0,630.7 L751.0,629.4 L754.0,628.2 L757.0,626.9 L760.0,625.6 L763.0,624.4 L766.0,623.1 L769.0,621.8 L772.0,620.5 L775.0,619.2 L778.0,618.0 L781.0,616.7 L784.0,615.4 L787.0,614.1 L790.0,612.9 L793.0,611.6 L796.0,610.4 L799.0,609.1 L802.0,607.9 L805.0,606.6 L808.0,605.4 L811.0,604.2 L814.0,603.0 L817.0,601.9 L820.0,600.7 L823.0,599.6 L826.0,598.4 L829.0,597.3 L832.0,596.3 L835.0,595.2 L838.0,594.2 L841.0,593.2 L844.0,592.2 L847.0,591.2 L850.0,590.3 L853.0,589.4 L856.0,588.5 L859.0,587.6 L862.0,586.8 L865.0,586.0 L868.0,585.3 L871.0,584.5 L874.0,583.9 L877.0,583.2 L880.0,582.6 L883.0,582.0 L886.0,581.5 L889.0,581.0 L892.0,580.5 L895.0,580.1 L898.0,579.7 L901.0,579.3 L904.0,579.0 L907.0,578.7 L910.0,578.5 L913.0,578.3 L916.0,578.2 L919.0,578.1 L922.0,578.0 L925.0,578.0 L928.0,578.0 L931.0,578.1 L934.0,578.1 L937.0,578.3 L940.0,578.4 L943.0,578.6 L946.0,578.8 L949.0,579.1 L952.0,579.3 L955.0,579.7 L958.0,580.0 L961.0,580.4 L964.0,580.8 L967.0,581.2 L970.0,581.7 L973.0,582.2 L976.0,582.7 L979.0,583.3 L982.0,583.8 L985.0,584.5 L988.0,585.1 L991.0,585.8 L994.0,586.5 L997.0,587.2 L1000.0,587.9 L1003.0,588.7 L1006.0,589.5 L1009.0,590.3 L1012.0,591.1 L1015.0,592.0 L1018.0,592.9 L1021.0,593.8 L1024.0,594.7 L1027.0,595.6 L1030.0,596.6 L1033.0,597.6 L1036.0,598.5 L1039.0,599.5 L1042.0,600.6 L1045.0,601.6 L1048.0,602.6 L1051.0,603.7 L1054.0,604.8 L1057.0,605.8 L1060.0,606.9 L1063.0,608.0 L1066.0,609.1 L1069.0,610.3 L1072.0,611.4 L1075.0,612.5 L1078.0,613.6 L1081.0,614.8 L1084.0,615.9 L1087.0,617.0 L1090.0,618.2 L1093.0,619.3 L1096.0,620.5 L1099.0,621.6 L1102.0,622.8 L1105.0,623.9 L1108.0,625.1 L1111.0,626.2 L1114.0,627.3 L1117.0,628.5 L1120.0,629.6 L1123.0,630.7 L1126.0,631.8 L1129.0,632.9 L1132.0,634.0 L1135.0,635.1 L1138.0,636.2 L1141.0,637.3 L1144.0,638.3 L1147.0,639.4 L1150.0,640.4 L1153.0,641.5 L1156.0,642.5 L1159.0,643.5 L1162.0,644.5 L1165.0,645.5 L1168.0,646.5 L1171.0,647.4 L1174.0,648.4 L1177.0,649.3 L1180.0,650.3 L1183.0,651.2 L1186.0,652.1 L1189.0,653.0 L1192.0,653.8 L1195.0,654.7 L1198.0,655.5 L1201.0,656.4 L1204.0,657.2 L1207.0,658.0 L1210.0,658.8 L1213.0,659.5 L1216.0,660.3 L1219.0,661.0 L1222.0,661.7 L1225.0,662.4 L1228.0,663.1 L1231.0,663.8 L1234.0,664.5 L1237.0,665.1 L1240.0,665.8 L1243.0,666.4 L1246.0,667.0 L1249.0,667.6 L1252.0,668.2 L1255.0,668.7 L1258.0,669.3 L1261.0,669.8 L1264.0,670.3 L1267.0,670.9 L1270.0,671.4 L1273.0,671.8 L1276.0,672.3 L1279.0,672.8 L1282.0,673.2 L1285.0,673.6 L1288.0,674.1 L1291.0,674.5 L1294.0,674.9 L1297.0,675.2 L1300.0,675.6 L1303.0,676.0 L1306.0,676.3 L1309.0,676.7 L1312.0,677.0 L1315.0,677.3 L1318.0,677.6 L1321.0,677.9 L1324.0,678.2 L1327.0,678.5 L1330.0,678.7 L1333.0,679.0 L1336.0,679.2 L1339.0,679.5 L1342.0,679.7 L1345.0,679.9 L1348.0,680.2 L1351.0,680.4 L1354.0,680.6 L1357.0,680.8 L1360.0,680.9 L1363.0,681.1 L1366.0,681.3 L1369.0,681.5 L1372.0,681.6 L1375.0,681.8 L1378.0,681.9 L1381.0,682.1 L1384.0,682.2 L1387.0,682.3 L1390.0,682.5 L1393.0,682.6 L1396.0,682.7 L1399.0,682.8 L1402.0,682.9 L1405.0,683.0 L1408.0,683.1 L1411.0,683.2 L1414.0,683.3 L1417.0,683.4 L1420.0,683.5 L1423.0,683.5 L1426.0,683.6 L1429.0,683.7 L1432.0,683.7 L1435.0,683.8 L1438.0,683.9 L1441.0,683.9 L1444.0,684.0 L1447.0,684.0 L1450.0,684.1 L1453.0,684.1 L1456.0,684.2 L1459.0,684.2 L1462.0,684.3 L1465.0,684.3 L1468.0,684.3 L1471.0,684.4 L1474.0,684.4 L1477.0,684.5 L1480.0,684.5 L1483.0,684.5 L1486.0,684.5 L1489.0,684.6 L1492.0,684.6 L1495.0,684.6 L1498.0,684.6 L1501.0,684.7 L1504.0,684.7 L1507.0,684.7 L1510.0,684.7 L1513.0,684.7 L1516.0,684.7 L1519.0,684.8 L1522.0,684.8 L1525.0,684.8 L1528.0,684.8 L1531.0,684.8 L1534.0,684.8 L1537.0,684.8 L1540.0,684.8 L1543.0,684.9 L1546.0,684.9 L1549.0,684.9 L1552.0,684.9 L1555.0,684.9 L1558.0,684.9 L1561.0,684.9 L1564.0,684.9 L1567.0,684.9 L1570.0,684.9 L1573.0,684.9 L1576.0,684.9 L1579.0,684.9 L1582.0,684.9 L1585.0,684.9 L1588.0,684.9 L1591.0,685.0 L1594.0,685.0 L1597.0,685.0 L1600.0,685.0 L1603.0,685.0 L1606.0,685.0 L1609.0,685.0 L1612.0,685.0 L1615.0,685.0 L1618.0,685.0 L1621.0,685.0 L1624.0,685.0 L1627.0,685.0 L1630.0,685.0 L1633.0,685.0 L1636.0,685.0 L1639.0,685.0 L1642.0,685.0 L1645.0,685.0 L1648.0,685.0 L1651.0,685.0 L1654.0,685.0 L1657.0,685.0 L1660.0,685.0 L1663.0,685.0 L1666.0,685.0 L1669.0,685.0 L1672.0,685.0 L1675.0,685.0 L1678.0,685.0 L1681.0,685.0 L1684.0,685.0 L1687.0,685.0 L1690.0,685.0 L1693.0,685.0 L1696.0,685.0 L1699.0,685.0 L1702.0,685.0 L1705.0,685.0 L1708.0,685.0 L1711.0,685.0 L1714.0,685.0 L1717.0,685.0 L1720.0,685.0 L1723.0,685.0 L1726.0,685.0 L1729.0,685.0 L1729.0,685.0"/>
<path stroke-width="11.5" stroke-linejoin="round" stroke-linecap="round" d="M198.0,682.0 C198.5,682.0 197.6,683.8 201.0,682.0 C204.4,680.2 213.6,674.1 218.5,671.1 C223.4,668.1 226.4,666.5 230.3,664.0 C234.2,661.5 238.5,658.5 242.0,656.2 C245.5,653.9 249.1,652.6 251.4,650.0 C253.8,647.4 254.9,643.4 256.1,640.5 C257.3,637.6 256.9,634.9 258.5,632.7 C260.1,630.5 262.4,629.2 265.5,627.2 C268.6,625.2 273.4,623.0 277.3,621.0 C281.2,619.0 285.1,617.9 289.0,615.5 C292.9,613.1 297.5,609.7 300.8,606.8 C304.1,603.9 307.0,601.6 309.0,598.0 C311.0,594.4 311.7,588.7 313.0,585.0 C314.3,581.3 314.9,579.6 317.0,576.0 C319.1,572.4 321.9,566.9 325.8,563.3 C329.7,559.7 335.6,557.7 340.1,554.4 C344.6,551.1 349.1,547.5 352.7,543.6 C356.3,539.7 359.2,535.4 361.6,531.1 C364.0,526.8 364.8,521.4 367.0,517.7 C369.2,514.0 370.7,511.7 375.0,508.7 C379.3,505.7 387.8,502.8 393.0,499.8 C398.2,496.8 402.8,494.5 406.4,490.8 C410.0,487.1 412.2,480.7 414.4,477.4 C416.6,474.1 416.7,472.3 419.8,471.1 C422.9,469.9 428.5,470.8 433.2,470.4 C437.9,470.0 442.7,470.3 448.0,468.9 C453.3,467.5 460.1,463.2 464.8,462.2 C469.5,461.2 470.4,462.3 476.0,463.1 C481.6,463.9 491.8,465.4 498.3,466.8 C504.8,468.2 509.5,469.6 515.1,471.3 C520.7,473.0 525.4,474.4 531.9,476.9 C538.4,479.4 546.8,483.6 554.3,486.4 C561.8,489.2 570.2,491.5 576.7,493.7 C583.2,495.9 587.9,497.4 593.5,499.8 C599.1,502.2 605.9,506.6 610.3,508.2 C614.7,509.8 614.8,508.1 620.0,509.4 C625.2,510.7 630.5,513.0 641.5,516.0 C652.5,519.0 671.3,523.9 686.2,527.3 C701.1,530.7 716.1,532.6 731.0,536.3 C745.9,540.0 764.3,546.8 775.8,549.7 C787.3,552.6 786.6,551.1 800.0,553.6 C813.4,556.1 837.3,561.6 856.0,564.8 C874.7,568.0 893.4,570.2 912.0,573.0 C930.6,575.8 949.3,577.9 967.9,581.6 C986.5,585.4 1005.1,590.4 1023.8,595.5 C1042.5,600.6 1061.1,605.8 1079.8,612.3 C1098.5,618.8 1117.1,627.7 1135.8,634.7 C1154.5,641.7 1173.0,648.2 1191.7,654.3 C1210.4,660.3 1233.7,667.4 1247.7,671.0 C1261.8,674.6 1267.3,674.5 1276.0,676.0 C1284.7,677.5 1292.0,679.0 1300.0,680.0 C1308.0,681.0 1307.3,681.3 1324.0,682.0 C1340.7,682.7 1332.8,683.7 1400.0,684.0 C1467.2,684.3 1672.7,684.0 1727.5,684.0 C1782.3,684.0 1728.8,684.0 1729.0,684.0"/>
</g>
<g fill="none" stroke="#FF5A5A" stroke-width="12" clip-path="url(#pc)">
<path stroke-dasharray="39.5 57" stroke-linecap="round" stroke-linejoin="round" stroke-dashoffset="3.1" d="M205.0,405.9 L208.0,404.5 L211.0,403.0 L214.0,401.5 L217.0,399.9 L220.0,398.3 L223.0,396.6 L226.0,394.8 L229.0,393.0 L232.0,391.1 L235.0,389.2 L238.0,387.1 L241.0,385.0 L244.0,382.9 L247.0,380.6 L250.0,378.4 L253.0,376.0 L256.0,373.6 L259.0,371.1 L262.0,368.5 L265.0,365.9 L268.0,363.2 L271.0,360.4 L274.0,357.6 L277.0,354.8 L280.0,351.9 L283.0,348.9 L286.0,345.9 L289.0,342.8 L292.0,339.7 L295.0,336.5 L298.0,333.3 L301.0,330.1 L304.0,326.9 L307.0,323.6 L310.0,320.3 L313.0,316.9 L316.0,313.6 L319.0,310.2 L322.0,306.9 L325.0,303.5 L328.0,300.2 L331.0,296.8 L334.0,293.5 L337.0,290.2 L340.0,286.9 L343.0,283.7 L346.0,280.5 L349.0,277.3 L352.0,274.2 L355.0,271.1 L358.0,268.1 L361.0,265.2 L364.0,262.3 L367.0,259.5 L370.0,256.8 L373.0,254.2 L376.0,251.7 L379.0,249.2 L382.0,246.9 L385.0,244.7 L388.0,242.6 L391.0,240.6 L394.0,238.8 L397.0,237.0 L400.0,235.4 L403.0,233.9 L406.0,232.6 L409.0,231.4 L412.0,230.3 L415.0,229.4 L418.0,228.6 L421.0,228.0 L424.0,227.5 L427.0,227.2 L430.0,227.0 L433.0,227.0 L436.0,227.1 L439.0,227.4 L442.0,227.8 L445.0,228.4 L448.0,229.1 L451.0,230.0 L454.0,231.0 L457.0,232.2 L460.0,233.5 L463.0,234.9 L466.0,236.5 L469.0,238.2 L472.0,240.0 L475.0,241.9 L478.0,244.0 L481.0,246.2 L484.0,248.5 L487.0,250.9 L490.0,253.3 L493.0,255.9 L496.0,258.6 L499.0,261.4 L502.0,264.2 L505.0,267.1 L508.0,270.1 L511.0,273.1 L514.0,276.2 L517.0,279.4 L520.0,282.6 L523.0,285.8 L526.0,289.1 L529.0,292.4 L532.0,295.7 L535.0,299.0 L538.0,302.4 L541.0,305.8 L544.0,309.1 L547.0,312.5 L550.0,315.8 L553.0,319.1 L556.0,322.5 L559.0,325.8 L562.0,329.0 L565.0,332.3 L568.0,335.5 L571.0,338.6 L574.0,341.8 L577.0,344.9 L580.0,347.9 L583.0,350.9 L586.0,353.8 L589.0,356.7 L592.0,359.5 L595.0,362.3 L598.0,365.0 L601.0,367.6 L604.0,370.2 L607.0,372.7 L610.0,375.2 L613.0,377.6 L616.0,379.9 L619.0,382.1 L622.0,384.3 L625.0,386.4 L628.0,388.5 L631.0,390.5 L634.0,392.4 L637.0,394.2 L640.0,396.0 L643.0,397.8 L646.0,399.4 L649.0,401.0 L652.0,402.5 L655.0,404.0 L658.0,405.4 L661.0,406.8 L664.0,408.0 L667.0,409.3 L670.0,410.5 L673.0,411.6 L676.0,412.7 L679.0,413.7 L682.0,414.7 L685.0,415.6 L688.0,416.5 L691.0,417.3 L694.0,418.1 L697.0,418.9 L700.0,419.6 L703.0,420.2 L706.0,420.9 L709.0,421.5 L712.0,422.0 L715.0,422.6 L718.0,423.1 L721.0,423.6 L724.0,424.0 L727.0,424.4 L730.0,424.8 L733.0,425.2 L736.0,425.5 L739.0,425.9 L742.0,426.2 L745.0,426.5 L748.0,426.7 L751.0,427.0 L754.0,427.2 L757.0,427.4 L760.0,427.6 L763.0,427.8 L766.0,428.0 L769.0,428.1 L772.0,428.3 L775.0,428.4 L778.0,428.6 L781.0,428.7 L784.0,428.8 L787.0,428.9 L790.0,429.0 L793.0,429.1 L796.0,429.1 L799.0,429.2 L802.0,429.3 L805.0,429.4 L808.0,429.4 L811.0,429.5 L814.0,429.5 L817.0,429.6 L820.0,429.6 L823.0,429.6 L826.0,429.7 L829.0,429.7 L832.0,429.7 L835.0,429.8 L838.0,429.8 L841.0,429.8 L844.0,429.8 L847.0,429.8 L850.0,429.9 L853.0,429.9 L856.0,429.9 L859.0,429.9 L862.0,429.9 L865.0,429.9 L868.0,429.9 L871.0,429.9 L874.0,429.9 L877.0,429.9 L880.0,429.9 L883.0,430.0 L886.0,430.0 L889.0,430.0 L892.0,430.0 L895.0,430.0 L898.0,430.0 L901.0,430.0 L904.0,430.0 L907.0,430.0 L910.0,430.0 L913.0,430.0 L916.0,430.0 L919.0,430.0 L922.0,430.0 L925.0,430.0 L928.0,430.0 L931.0,430.0 L934.0,430.0 L937.0,430.0 L940.0,430.0 L943.0,430.0 L946.0,430.0 L949.0,430.0 L952.0,430.0 L955.0,430.0 L958.0,430.0 L961.0,430.0 L964.0,430.0 L967.0,430.0 L970.0,430.0 L973.0,430.0 L976.0,430.0 L979.0,430.0 L982.0,430.0 L985.0,430.0 L988.0,430.0 L991.0,430.0 L994.0,430.0 L997.0,430.0 L1000.0,430.0 L1003.0,430.0 L1006.0,430.0 L1009.0,430.0 L1012.0,430.0 L1015.0,430.0 L1018.0,430.0 L1021.0,430.0 L1024.0,430.0 L1027.0,430.0 L1030.0,430.0 L1033.0,430.0 L1036.0,430.0 L1039.0,430.0 L1042.0,430.0 L1045.0,430.0 L1048.0,430.0 L1051.0,430.0 L1054.0,430.0 L1057.0,430.0 L1060.0,430.0 L1063.0,430.0 L1066.0,430.0 L1069.0,430.0 L1072.0,430.0 L1075.0,430.0 L1078.0,430.0 L1081.0,430.0 L1084.0,430.0 L1087.0,430.0 L1090.0,430.0 L1093.0,430.0 L1096.0,430.0 L1099.0,430.0 L1102.0,430.0 L1105.0,430.0 L1108.0,430.0 L1111.0,430.0 L1114.0,430.0 L1117.0,430.0 L1120.0,430.0 L1123.0,430.0 L1126.0,430.0 L1129.0,430.0 L1132.0,430.0 L1135.0,430.0 L1138.0,430.0 L1141.0,430.0 L1144.0,430.0 L1147.0,430.0 L1150.0,430.0 L1153.0,430.0 L1156.0,430.0 L1159.0,430.0 L1162.0,430.0 L1165.0,430.0 L1168.0,430.0 L1171.0,430.0 L1174.0,430.0 L1177.0,430.0 L1180.0,430.0 L1183.0,430.0 L1186.0,430.0 L1189.0,430.0 L1192.0,430.0 L1195.0,430.0 L1198.0,430.0 L1201.0,430.0 L1204.0,430.0 L1207.0,430.0 L1210.0,430.0 L1213.0,430.0 L1216.0,430.0 L1219.0,430.0 L1222.0,430.0 L1225.0,430.0 L1228.0,430.0 L1231.0,430.0 L1234.0,430.0 L1237.0,430.0 L1240.0,430.0 L1243.0,430.0 L1246.0,430.0 L1249.0,430.0 L1252.0,430.0 L1255.0,430.0 L1258.0,430.0 L1261.0,430.0 L1264.0,430.0 L1267.0,430.0 L1270.0,430.0 L1273.0,430.0 L1276.0,430.0 L1279.0,430.0 L1282.0,430.0 L1285.0,430.0 L1288.0,430.0 L1291.0,430.0 L1294.0,430.0 L1297.0,430.0 L1300.0,430.0 L1303.0,430.0 L1306.0,430.0 L1309.0,430.0 L1312.0,430.0 L1315.0,430.0 L1318.0,430.0 L1321.0,430.0 L1324.0,430.0 L1327.0,430.0 L1330.0,430.0 L1333.0,430.0 L1336.0,430.0 L1339.0,430.0 L1342.0,430.0 L1345.0,430.0 L1348.0,430.0 L1351.0,430.0 L1354.0,430.0 L1357.0,430.0 L1360.0,430.0 L1363.0,430.0 L1366.0,430.0 L1369.0,430.0 L1372.0,430.0 L1375.0,430.0 L1378.0,430.0 L1381.0,430.0 L1384.0,430.0 L1387.0,430.0 L1390.0,430.0 L1393.0,430.0 L1396.0,430.0 L1399.0,430.0 L1402.0,430.0 L1405.0,430.0 L1408.0,430.0 L1411.0,430.0 L1414.0,430.0 L1417.0,430.0 L1420.0,430.0 L1423.0,430.0 L1426.0,430.0 L1429.0,430.0 L1432.0,430.0 L1435.0,430.0 L1438.0,430.0 L1441.0,430.0 L1444.0,430.0 L1447.0,430.0 L1450.0,430.0 L1453.0,430.0 L1456.0,430.0 L1459.0,430.0 L1462.0,430.0 L1465.0,430.0 L1468.0,430.0 L1471.0,430.0 L1474.0,430.0 L1477.0,430.0 L1480.0,430.0 L1483.0,430.0 L1486.0,430.0 L1489.0,430.0 L1492.0,430.0 L1495.0,430.0 L1498.0,430.0 L1501.0,430.0 L1504.0,430.0 L1507.0,430.0 L1510.0,430.0 L1513.0,430.0 L1516.0,430.0 L1519.0,430.0 L1522.0,430.0 L1525.0,430.0 L1528.0,430.0 L1531.0,430.0 L1534.0,430.0 L1537.0,430.0 L1540.0,430.0 L1543.0,430.0 L1546.0,430.0 L1549.0,430.0 L1552.0,430.0 L1555.0,430.0 L1558.0,430.0 L1561.0,430.0 L1564.0,430.0 L1567.0,430.0 L1570.0,430.0 L1573.0,430.0 L1576.0,430.0 L1579.0,430.0 L1582.0,430.0 L1585.0,430.0 L1588.0,430.0 L1591.0,430.0 L1594.0,430.0 L1597.0,430.0 L1600.0,430.0 L1603.0,430.0 L1606.0,430.0 L1609.0,430.0 L1612.0,430.0 L1615.0,430.0 L1618.0,430.0 L1621.0,430.0 L1624.0,430.0 L1627.0,430.0 L1630.0,430.0 L1633.0,430.0 L1636.0,430.0 L1639.0,430.0 L1642.0,430.0 L1645.0,430.0 L1648.0,430.0 L1651.0,430.0 L1654.0,430.0 L1657.0,430.0 L1660.0,430.0 L1663.0,430.0 L1666.0,430.0 L1669.0,430.0 L1672.0,430.0 L1675.0,430.0 L1678.0,430.0 L1681.0,430.0 L1684.0,430.0 L1687.0,430.0 L1690.0,430.0 L1693.0,430.0 L1696.0,430.0 L1699.0,430.0 L1702.0,430.0 L1705.0,430.0 L1708.0,430.0 L1711.0,430.0 L1714.0,430.0 L1717.0,430.0 L1720.0,430.0 L1723.0,430.0 L1726.0,430.0 L1729.0,430.0 L1729.0,430.0"/>
<path stroke-dasharray="39.5 57" stroke-linecap="round" stroke-linejoin="round" stroke-dashoffset="5.5" d="M205.0,430.0 L208.0,430.0 L211.0,430.0 L214.0,430.0 L217.0,430.0 L220.0,430.0 L223.0,430.0 L226.0,430.0 L229.0,430.0 L232.0,430.0 L235.0,429.9 L238.0,429.9 L241.0,429.9 L244.0,429.9 L247.0,429.9 L250.0,429.9 L253.0,429.9 L256.0,429.9 L259.0,429.9 L262.0,429.9 L265.0,429.8 L268.0,429.8 L271.0,429.8 L274.0,429.8 L277.0,429.8 L280.0,429.7 L283.0,429.7 L286.0,429.7 L289.0,429.6 L292.0,429.6 L295.0,429.6 L298.0,429.5 L301.0,429.5 L304.0,429.4 L307.0,429.4 L310.0,429.3 L313.0,429.3 L316.0,429.2 L319.0,429.1 L322.0,429.0 L325.0,428.9 L328.0,428.8 L331.0,428.7 L334.0,428.6 L337.0,428.5 L340.0,428.4 L343.0,428.2 L346.0,428.1 L349.0,427.9 L352.0,427.8 L355.0,427.6 L358.0,427.4 L361.0,427.2 L364.0,427.0 L367.0,426.7 L370.0,426.5 L373.0,426.2 L376.0,425.9 L379.0,425.6 L382.0,425.3 L385.0,424.9 L388.0,424.5 L391.0,424.1 L394.0,423.7 L397.0,423.3 L400.0,422.8 L403.0,422.3 L406.0,421.8 L409.0,421.2 L412.0,420.7 L415.0,420.1 L418.0,419.4 L421.0,418.7 L424.0,418.0 L427.0,417.3 L430.0,416.5 L433.0,415.7 L436.0,414.9 L439.0,414.0 L442.0,413.0 L445.0,412.1 L448.0,411.1 L451.0,410.0 L454.0,408.9 L457.0,407.8 L460.0,406.6 L463.0,405.4 L466.0,404.2 L469.0,402.9 L472.0,401.5 L475.0,400.1 L478.0,398.7 L481.0,397.2 L484.0,395.7 L487.0,394.1 L490.0,392.5 L493.0,390.9 L496.0,389.2 L499.0,387.5 L502.0,385.7 L505.0,384.0 L508.0,382.1 L511.0,380.3 L514.0,378.4 L517.0,376.5 L520.0,374.5 L523.0,372.5 L526.0,370.5 L529.0,368.5 L532.0,366.5 L535.0,364.4 L538.0,362.3 L541.0,360.3 L544.0,358.2 L547.0,356.1 L550.0,354.0 L553.0,351.9 L556.0,349.8 L559.0,347.8 L562.0,345.7 L565.0,343.6 L568.0,341.6 L571.0,339.6 L574.0,337.6 L577.0,335.7 L580.0,333.8 L583.0,331.9 L586.0,330.1 L589.0,328.3 L592.0,326.6 L595.0,324.9 L598.0,323.3 L601.0,321.7 L604.0,320.2 L607.0,318.8 L610.0,317.4 L613.0,316.1 L616.0,314.9 L619.0,313.8 L622.0,312.7 L625.0,311.7 L628.0,310.9 L631.0,310.1 L634.0,309.3 L637.0,308.7 L640.0,308.2 L643.0,307.8 L646.0,307.4 L649.0,307.2 L652.0,307.0 L655.0,307.0 L658.0,307.0 L661.0,307.2 L664.0,307.4 L667.0,307.8 L670.0,308.2 L673.0,308.7 L676.0,309.3 L679.0,310.1 L682.0,310.9 L685.0,311.7 L688.0,312.7 L691.0,313.8 L694.0,314.9 L697.0,316.1 L700.0,317.4 L703.0,318.8 L706.0,320.2 L709.0,321.7 L712.0,323.3 L715.0,324.9 L718.0,326.6 L721.0,328.3 L724.0,330.1 L727.0,331.9 L730.0,333.8 L733.0,335.7 L736.0,337.6 L739.0,339.6 L742.0,341.6 L745.0,343.6 L748.0,345.7 L751.0,347.8 L754.0,349.8 L757.0,351.9 L760.0,354.0 L763.0,356.1 L766.0,358.2 L769.0,360.3 L772.0,362.3 L775.0,364.4 L778.0,366.5 L781.0,368.5 L784.0,370.5 L787.0,372.5 L790.0,374.5 L793.0,376.5 L796.0,378.4 L799.0,380.3 L802.0,382.1 L805.0,384.0 L808.0,385.7 L811.0,387.5 L814.0,389.2 L817.0,390.9 L820.0,392.5 L823.0,394.1 L826.0,395.7 L829.0,397.2 L832.0,398.7 L835.0,400.1 L838.0,401.5 L841.0,402.9 L844.0,404.2 L847.0,405.4 L850.0,406.6 L853.0,407.8 L856.0,408.9 L859.0,410.0 L862.0,411.1 L865.0,412.1 L868.0,413.0 L871.0,414.0 L874.0,414.9 L877.0,415.7 L880.0,416.5 L883.0,417.3 L886.0,418.0 L889.0,418.7 L892.0,419.4 L895.0,420.1 L898.0,420.7 L901.0,421.2 L904.0,421.8 L907.0,422.3 L910.0,422.8 L913.0,423.3 L916.0,423.7 L919.0,424.1 L922.0,424.5 L925.0,424.9 L928.0,425.3 L931.0,425.6 L934.0,425.9 L937.0,426.2 L940.0,426.5 L943.0,426.7 L946.0,427.0 L949.0,427.2 L952.0,427.4 L955.0,427.6 L958.0,427.8 L961.0,427.9 L964.0,428.1 L967.0,428.2 L970.0,428.4 L973.0,428.5 L976.0,428.6 L979.0,428.7 L982.0,428.8 L985.0,428.9 L988.0,429.0 L991.0,429.1 L994.0,429.2 L997.0,429.3 L1000.0,429.3 L1003.0,429.4 L1006.0,429.4 L1009.0,429.5 L1012.0,429.5 L1015.0,429.6 L1018.0,429.6 L1021.0,429.6 L1024.0,429.7 L1027.0,429.7 L1030.0,429.7 L1033.0,429.8 L1036.0,429.8 L1039.0,429.8 L1042.0,429.8 L1045.0,429.8 L1048.0,429.9 L1051.0,429.9 L1054.0,429.9 L1057.0,429.9 L1060.0,429.9 L1063.0,429.9 L1066.0,429.9 L1069.0,429.9 L1072.0,429.9 L1075.0,429.9 L1078.0,430.0 L1081.0,430.0 L1084.0,430.0 L1087.0,430.0 L1090.0,430.0 L1093.0,430.0 L1096.0,430.0 L1099.0,430.0 L1102.0,430.0 L1105.0,430.0 L1108.0,430.0 L1111.0,430.0 L1114.0,430.0 L1117.0,430.0 L1120.0,430.0 L1123.0,430.0 L1126.0,430.0 L1129.0,430.0 L1132.0,430.0 L1135.0,430.0 L1138.0,430.0 L1141.0,430.0 L1144.0,430.0 L1147.0,430.0 L1150.0,430.0 L1153.0,430.0 L1156.0,430.0 L1159.0,430.0 L1162.0,430.0 L1165.0,430.0 L1168.0,430.0 L1171.0,430.0 L1174.0,430.0 L1177.0,430.0 L1180.0,430.0 L1183.0,430.0 L1186.0,430.0 L1189.0,430.0 L1192.0,430.0 L1195.0,430.0 L1198.0,430.0 L1201.0,430.0 L1204.0,430.0 L1207.0,430.0 L1210.0,430.0 L1213.0,430.0 L1216.0,430.0 L1219.0,430.0 L1222.0,430.0 L1225.0,430.0 L1228.0,430.0 L1231.0,430.0 L1234.0,430.0 L1237.0,430.0 L1240.0,430.0 L1243.0,430.0 L1246.0,430.0 L1249.0,430.0 L1252.0,430.0 L1255.0,430.0 L1258.0,430.0 L1261.0,430.0 L1264.0,430.0 L1267.0,430.0 L1270.0,430.0 L1273.0,430.0 L1276.0,430.0 L1279.0,430.0 L1282.0,430.0 L1285.0,430.0 L1288.0,430.0 L1291.0,430.0 L1294.0,430.0 L1297.0,430.0 L1300.0,430.0 L1303.0,430.0 L1306.0,430.0 L1309.0,430.0 L1312.0,430.0 L1315.0,430.0 L1318.0,430.0 L1321.0,430.0 L1324.0,430.0 L1327.0,430.0 L1330.0,430.0 L1333.0,430.0 L1336.0,430.0 L1339.0,430.0 L1342.0,430.0 L1345.0,430.0 L1348.0,430.0 L1351.0,430.0 L1354.0,430.0 L1357.0,430.0 L1360.0,430.0 L1363.0,430.0 L1366.0,430.0 L1369.0,430.0 L1372.0,430.0 L1375.0,430.0 L1378.0,430.0 L1381.0,430.0 L1384.0,430.0 L1387.0,430.0 L1390.0,430.0 L1393.0,430.0 L1396.0,430.0 L1399.0,430.0 L1402.0,430.0 L1405.0,430.0 L1408.0,430.0 L1411.0,430.0 L1414.0,430.0 L1417.0,430.0 L1420.0,430.0 L1423.0,430.0 L1426.0,430.0 L1429.0,430.0 L1432.0,430.0 L1435.0,430.0 L1438.0,430.0 L1441.0,430.0 L1444.0,430.0 L1447.0,430.0 L1450.0,430.0 L1453.0,430.0 L1456.0,430.0 L1459.0,430.0 L1462.0,430.0 L1465.0,430.0 L1468.0,430.0 L1471.0,430.0 L1474.0,430.0 L1477.0,430.0 L1480.0,430.0 L1483.0,430.0 L1486.0,430.0 L1489.0,430.0 L1492.0,430.0 L1495.0,430.0 L1498.0,430.0 L1501.0,430.0 L1504.0,430.0 L1507.0,430.0 L1510.0,430.0 L1513.0,430.0 L1516.0,430.0 L1519.0,430.0 L1522.0,430.0 L1525.0,430.0 L1528.0,430.0 L1531.0,430.0 L1534.0,430.0 L1537.0,430.0 L1540.0,430.0 L1543.0,430.0 L1546.0,430.0 L1549.0,430.0 L1552.0,430.0 L1555.0,430.0 L1558.0,430.0 L1561.0,430.0 L1564.0,430.0 L1567.0,430.0 L1570.0,430.0 L1573.0,430.0 L1576.0,430.0 L1579.0,430.0 L1582.0,430.0 L1585.0,430.0 L1588.0,430.0 L1591.0,430.0 L1594.0,430.0 L1597.0,430.0 L1600.0,430.0 L1603.0,430.0 L1606.0,430.0 L1609.0,430.0 L1612.0,430.0 L1615.0,430.0 L1618.0,430.0 L1621.0,430.0 L1624.0,430.0 L1627.0,430.0 L1630.0,430.0 L1633.0,430.0 L1636.0,430.0 L1639.0,430.0 L1642.0,430.0 L1645.0,430.0 L1648.0,430.0 L1651.0,430.0 L1654.0,430.0 L1657.0,430.0 L1660.0,430.0 L1663.0,430.0 L1666.0,430.0 L1669.0,430.0 L1672.0,430.0 L1675.0,430.0 L1678.0,430.0 L1681.0,430.0 L1684.0,430.0 L1687.0,430.0 L1690.0,430.0 L1693.0,430.0 L1696.0,430.0 L1699.0,430.0 L1702.0,430.0 L1705.0,430.0 L1708.0,430.0 L1711.0,430.0 L1714.0,430.0 L1717.0,430.0 L1720.0,430.0 L1723.0,430.0 L1726.0,430.0 L1729.0,430.0 L1729.0,430.0"/>
<path stroke-dasharray="39.5 57" stroke-linecap="round" stroke-linejoin="round" stroke-dashoffset="5.8" d="M205.0,430.0 L208.0,430.0 L211.0,430.0 L214.0,430.0 L217.0,430.0 L220.0,430.0 L223.0,430.0 L226.0,430.0 L229.0,430.0 L232.0,430.0 L235.0,430.0 L238.0,430.0 L241.0,430.0 L244.0,430.0 L247.0,430.0 L250.0,430.0 L253.0,430.0 L256.0,430.0 L259.0,430.0 L262.0,430.0 L265.0,430.0 L268.0,430.0 L271.0,430.0 L274.0,430.0 L277.0,430.0 L280.0,430.0 L283.0,430.0 L286.0,430.0 L289.0,429.9 L292.0,429.9 L295.0,429.9 L298.0,429.9 L301.0,429.9 L304.0,429.9 L307.0,429.9 L310.0,429.9 L313.0,429.9 L316.0,429.9 L319.0,429.9 L322.0,429.9 L325.0,429.9 L328.0,429.9 L331.0,429.9 L334.0,429.9 L337.0,429.8 L340.0,429.8 L343.0,429.8 L346.0,429.8 L349.0,429.8 L352.0,429.8 L355.0,429.8 L358.0,429.8 L361.0,429.7 L364.0,429.7 L367.0,429.7 L370.0,429.7 L373.0,429.7 L376.0,429.6 L379.0,429.6 L382.0,429.6 L385.0,429.6 L388.0,429.5 L391.0,429.5 L394.0,429.5 L397.0,429.5 L400.0,429.4 L403.0,429.4 L406.0,429.4 L409.0,429.3 L412.0,429.3 L415.0,429.2 L418.0,429.2 L421.0,429.1 L424.0,429.1 L427.0,429.0 L430.0,429.0 L433.0,428.9 L436.0,428.9 L439.0,428.8 L442.0,428.7 L445.0,428.6 L448.0,428.6 L451.0,428.5 L454.0,428.4 L457.0,428.3 L460.0,428.2 L463.0,428.1 L466.0,428.0 L469.0,427.9 L472.0,427.8 L475.0,427.7 L478.0,427.6 L481.0,427.5 L484.0,427.3 L487.0,427.2 L490.0,427.1 L493.0,426.9 L496.0,426.8 L499.0,426.6 L502.0,426.4 L505.0,426.2 L508.0,426.1 L511.0,425.9 L514.0,425.7 L517.0,425.5 L520.0,425.3 L523.0,425.0 L526.0,424.8 L529.0,424.6 L532.0,424.3 L535.0,424.1 L538.0,423.8 L541.0,423.5 L544.0,423.3 L547.0,423.0 L550.0,422.7 L553.0,422.3 L556.0,422.0 L559.0,421.7 L562.0,421.3 L565.0,421.0 L568.0,420.6 L571.0,420.2 L574.0,419.8 L577.0,419.4 L580.0,419.0 L583.0,418.5 L586.0,418.1 L589.0,417.6 L592.0,417.2 L595.0,416.7 L598.0,416.2 L601.0,415.7 L604.0,415.1 L607.0,414.6 L610.0,414.0 L613.0,413.5 L616.0,412.9 L619.0,412.3 L622.0,411.7 L625.0,411.0 L628.0,410.4 L631.0,409.7 L634.0,409.1 L637.0,408.4 L640.0,407.7 L643.0,407.0 L646.0,406.2 L649.0,405.5 L652.0,404.7 L655.0,403.9 L658.0,403.1 L661.0,402.3 L664.0,401.5 L667.0,400.7 L670.0,399.8 L673.0,399.0 L676.0,398.1 L679.0,397.2 L682.0,396.3 L685.0,395.4 L688.0,394.5 L691.0,393.5 L694.0,392.6 L697.0,391.6 L700.0,390.6 L703.0,389.7 L706.0,388.7 L709.0,387.7 L712.0,386.6 L715.0,385.6 L718.0,384.6 L721.0,383.6 L724.0,382.5 L727.0,381.5 L730.0,380.4 L733.0,379.3 L736.0,378.3 L739.0,377.2 L742.0,376.1 L745.0,375.0 L748.0,373.9 L751.0,372.9 L754.0,371.8 L757.0,370.7 L760.0,369.6 L763.0,368.5 L766.0,367.4 L769.0,366.4 L772.0,365.3 L775.0,364.2 L778.0,363.2 L781.0,362.1 L784.0,361.1 L787.0,360.0 L790.0,359.0 L793.0,358.0 L796.0,356.9 L799.0,355.9 L802.0,355.0 L805.0,354.0 L808.0,353.0 L811.0,352.1 L814.0,351.1 L817.0,350.2 L820.0,349.3 L823.0,348.5 L826.0,347.6 L829.0,346.8 L832.0,345.9 L835.0,345.1 L838.0,344.4 L841.0,343.6 L844.0,342.9 L847.0,342.2 L850.0,341.5 L853.0,340.9 L856.0,340.2 L859.0,339.6 L862.0,339.1 L865.0,338.5 L868.0,338.0 L871.0,337.5 L874.0,337.1 L877.0,336.6 L880.0,336.2 L883.0,335.9 L886.0,335.5 L889.0,335.2 L892.0,335.0 L895.0,334.7 L898.0,334.5 L901.0,334.4 L904.0,334.2 L907.0,334.1 L910.0,334.0 L913.0,334.0 L916.0,334.0 L919.0,334.0 L922.0,334.1 L925.0,334.2 L928.0,334.4 L931.0,334.6 L934.0,334.8 L937.0,335.1 L940.0,335.4 L943.0,335.7 L946.0,336.1 L949.0,336.6 L952.0,337.0 L955.0,337.5 L958.0,338.1 L961.0,338.6 L964.0,339.3 L967.0,339.9 L970.0,340.6 L973.0,341.3 L976.0,342.0 L979.0,342.8 L982.0,343.6 L985.0,344.4 L988.0,345.3 L991.0,346.2 L994.0,347.1 L997.0,348.0 L1000.0,349.0 L1003.0,349.9 L1006.0,350.9 L1009.0,352.0 L1012.0,353.0 L1015.0,354.1 L1018.0,355.1 L1021.0,356.2 L1024.0,357.3 L1027.0,358.5 L1030.0,359.6 L1033.0,360.7 L1036.0,361.9 L1039.0,363.1 L1042.0,364.2 L1045.0,365.4 L1048.0,366.6 L1051.0,367.8 L1054.0,369.0 L1057.0,370.2 L1060.0,371.4 L1063.0,372.6 L1066.0,373.8 L1069.0,375.0 L1072.0,376.2 L1075.0,377.3 L1078.0,378.5 L1081.0,379.7 L1084.0,380.9 L1087.0,382.0 L1090.0,383.2 L1093.0,384.3 L1096.0,385.5 L1099.0,386.6 L1102.0,387.7 L1105.0,388.8 L1108.0,389.9 L1111.0,391.0 L1114.0,392.1 L1117.0,393.1 L1120.0,394.2 L1123.0,395.2 L1126.0,396.2 L1129.0,397.2 L1132.0,398.2 L1135.0,399.2 L1138.0,400.1 L1141.0,401.0 L1144.0,401.9 L1147.0,402.8 L1150.0,403.7 L1153.0,404.6 L1156.0,405.4 L1159.0,406.2 L1162.0,407.1 L1165.0,407.8 L1168.0,408.6 L1171.0,409.4 L1174.0,410.1 L1177.0,410.8 L1180.0,411.5 L1183.0,412.2 L1186.0,412.9 L1189.0,413.5 L1192.0,414.1 L1195.0,414.7 L1198.0,415.3 L1201.0,415.9 L1204.0,416.5 L1207.0,417.0 L1210.0,417.5 L1213.0,418.0 L1216.0,418.5 L1219.0,419.0 L1222.0,419.5 L1225.0,419.9 L1228.0,420.4 L1231.0,420.8 L1234.0,421.2 L1237.0,421.6 L1240.0,421.9 L1243.0,422.3 L1246.0,422.7 L1249.0,423.0 L1252.0,423.3 L1255.0,423.6 L1258.0,423.9 L1261.0,424.2 L1264.0,424.5 L1267.0,424.8 L1270.0,425.0 L1273.0,425.3 L1276.0,425.5 L1279.0,425.7 L1282.0,425.9 L1285.0,426.1 L1288.0,426.3 L1291.0,426.5 L1294.0,426.7 L1297.0,426.9 L1300.0,427.0 L1303.0,427.2 L1306.0,427.3 L1309.0,427.5 L1312.0,427.6 L1315.0,427.7 L1318.0,427.9 L1321.0,428.0 L1324.0,428.1 L1327.0,428.2 L1330.0,428.3 L1333.0,428.4 L1336.0,428.5 L1339.0,428.6 L1342.0,428.7 L1345.0,428.7 L1348.0,428.8 L1351.0,428.9 L1354.0,429.0 L1357.0,429.0 L1360.0,429.1 L1363.0,429.1 L1366.0,429.2 L1369.0,429.2 L1372.0,429.3 L1375.0,429.3 L1378.0,429.4 L1381.0,429.4 L1384.0,429.4 L1387.0,429.5 L1390.0,429.5 L1393.0,429.5 L1396.0,429.6 L1399.0,429.6 L1402.0,429.6 L1405.0,429.7 L1408.0,429.7 L1411.0,429.7 L1414.0,429.7 L1417.0,429.7 L1420.0,429.8 L1423.0,429.8 L1426.0,429.8 L1429.0,429.8 L1432.0,429.8 L1435.0,429.8 L1438.0,429.8 L1441.0,429.9 L1444.0,429.9 L1447.0,429.9 L1450.0,429.9 L1453.0,429.9 L1456.0,429.9 L1459.0,429.9 L1462.0,429.9 L1465.0,429.9 L1468.0,429.9 L1471.0,429.9 L1474.0,429.9 L1477.0,429.9 L1480.0,429.9 L1483.0,430.0 L1486.0,430.0 L1489.0,430.0 L1492.0,430.0 L1495.0,430.0 L1498.0,430.0 L1501.0,430.0 L1504.0,430.0 L1507.0,430.0 L1510.0,430.0 L1513.0,430.0 L1516.0,430.0 L1519.0,430.0 L1522.0,430.0 L1525.0,430.0 L1528.0,430.0 L1531.0,430.0 L1534.0,430.0 L1537.0,430.0 L1540.0,430.0 L1543.0,430.0 L1546.0,430.0 L1549.0,430.0 L1552.0,430.0 L1555.0,430.0 L1558.0,430.0 L1561.0,430.0 L1564.0,430.0 L1567.0,430.0 L1570.0,430.0 L1573.0,430.0 L1576.0,430.0 L1579.0,430.0 L1582.0,430.0 L1585.0,430.0 L1588.0,430.0 L1591.0,430.0 L1594.0,430.0 L1597.0,430.0 L1600.0,430.0 L1603.0,430.0 L1606.0,430.0 L1609.0,430.0 L1612.0,430.0 L1615.0,430.0 L1618.0,430.0 L1621.0,430.0 L1624.0,430.0 L1627.0,430.0 L1630.0,430.0 L1633.0,430.0 L1636.0,430.0 L1639.0,430.0 L1642.0,430.0 L1645.0,430.0 L1648.0,430.0 L1651.0,430.0 L1654.0,430.0 L1657.0,430.0 L1660.0,430.0 L1663.0,430.0 L1666.0,430.0 L1669.0,430.0 L1672.0,430.0 L1675.0,430.0 L1678.0,430.0 L1681.0,430.0 L1684.0,430.0 L1687.0,430.0 L1690.0,430.0 L1693.0,430.0 L1696.0,430.0 L1699.0,430.0 L1702.0,430.0 L1705.0,430.0 L1708.0,430.0 L1711.0,430.0 L1714.0,430.0 L1717.0,430.0 L1720.0,430.0 L1723.0,430.0 L1726.0,430.0 L1729.0,430.0 L1729.0,430.0"/>
<path stroke-width="11.5" stroke-linejoin="round" stroke-linecap="round" d="M198.0,424.0 C198.3,424.0 196.7,425.7 199.6,424.0 C202.5,422.3 210.3,417.1 215.2,413.8 C220.0,410.5 224.2,408.0 228.7,404.4 C233.2,400.8 237.6,396.1 242.1,392.3 C246.6,388.5 251.7,385.6 255.6,381.5 C259.5,377.4 262.9,372.2 265.7,368.0 C268.5,363.8 269.8,359.9 272.4,356.3 C274.9,352.7 277.6,349.6 281.0,346.5 C284.4,343.4 289.7,340.5 292.6,338.0 C295.5,335.5 295.5,334.6 298.4,331.5 C301.3,328.4 307.1,323.5 310.2,319.5 C313.3,315.5 315.2,311.2 316.9,307.6 C318.6,304.0 318.8,300.9 320.5,298.0 C322.2,295.1 324.8,292.4 327.3,290.1 C329.8,287.8 332.4,286.8 335.6,284.1 C338.9,281.4 343.1,277.4 346.8,274.1 C350.5,270.9 355.2,268.1 357.9,264.6 C360.6,261.2 361.6,256.6 363.1,253.4 C364.6,250.2 364.0,248.3 366.7,245.5 C369.4,242.7 374.6,239.1 379.4,236.3 C384.2,233.5 390.9,231.5 395.3,228.8 C399.8,226.2 402.8,223.0 406.1,220.4 C409.4,217.8 411.3,214.9 415.0,213.3 C418.7,211.7 423.3,211.4 428.5,210.6 C433.7,209.8 440.4,208.9 446.4,208.4 C452.4,207.9 458.7,207.2 464.3,207.5 C469.9,207.8 474.0,208.7 480.0,210.1 C486.0,211.5 493.4,213.8 500.1,215.7 C506.8,217.5 513.6,219.3 520.3,221.2 C527.0,223.1 533.7,225.5 540.4,227.3 C547.1,229.2 553.9,230.6 560.6,232.3 C567.3,234.0 574.0,235.8 580.7,237.3 C587.4,238.8 594.2,240.0 600.9,241.4 C607.6,242.8 614.3,244.5 621.0,245.9 C627.7,247.3 634.7,248.6 641.2,249.9 C647.7,251.2 648.8,251.0 660.0,253.5 C671.2,256.0 693.0,260.8 708.6,265.0 C724.2,269.2 738.5,274.0 753.4,278.5 C768.3,283.0 786.9,289.1 798.0,292.0 C809.1,294.9 807.4,293.1 820.0,296.0 C832.6,298.9 855.8,304.8 873.7,309.5 C891.6,314.2 909.5,319.2 927.4,324.3 C945.3,329.4 963.1,334.3 981.0,340.4 C998.9,346.4 1017.0,354.6 1034.9,360.6 C1052.8,366.7 1070.7,371.6 1088.6,376.7 C1106.5,381.8 1124.4,387.0 1142.3,391.5 C1160.2,396.0 1178.1,399.6 1196.0,403.6 C1213.9,407.6 1232.5,412.2 1249.8,415.6 C1267.1,419.0 1286.6,421.8 1300.0,423.7 C1313.4,425.6 1313.3,426.4 1330.0,427.0 C1346.7,427.6 1333.8,427.4 1400.0,427.5 C1466.2,427.6 1672.7,427.5 1727.5,427.5 C1782.3,427.5 1728.8,427.5 1729.0,427.5"/>
</g>
<path stroke="#000" stroke-width="11" stroke-dasharray="39.5 55.8" stroke-linecap="round" fill="none" d="M449.8,205 L449.8,969"/>
<path stroke="#000" stroke-width="11" stroke-dasharray="39.5 55.8" stroke-linecap="round" fill="none" d="M670.4,255 L670.4,847"/>
<path stroke="#000" stroke-width="11" stroke-dasharray="39.5 55.8" stroke-linecap="round" fill="none" d="M935.4,331 L935.4,825"/>
<text x="197.5" y="1406" font-family="'Liberation Serif', serif" font-weight="bold" font-size="74" text-anchor="middle">100</text>
<text x="475.7" y="1406" font-family="'Liberation Serif', serif" font-weight="bold" font-size="74" text-anchor="middle">200</text>
<text x="753.9" y="1406" font-family="'Liberation Serif', serif" font-weight="bold" font-size="74" text-anchor="middle">300</text>
<text x="1032.0" y="1406" font-family="'Liberation Serif', serif" font-weight="bold" font-size="74" text-anchor="middle">400</text>
<text x="1310.2" y="1406" font-family="'Liberation Serif', serif" font-weight="bold" font-size="74" text-anchor="middle">500</text>
<text x="1588.4" y="1406" font-family="'Liberation Serif', serif" font-weight="bold" font-size="74" text-anchor="middle">600</text>
<text x="334" y="173" font-family="'Liberation Serif', serif" font-weight="bold" font-size="73">WA</text>
<text x="528.5" y="218" font-family="'Liberation Serif', serif" font-weight="bold" font-size="73">Cu</text>
<text x="750.5" y="283" font-family="'Liberation Serif', serif" font-weight="bold" font-size="73">SA</text>
<text x="1657.8" y="395.0" font-family="'Liberation Serif', serif" font-weight="bold" font-size="73" text-anchor="middle">D</text>
<text x="1658.0" y="650.0" font-family="'Liberation Serif', serif" font-weight="bold" font-size="73" text-anchor="middle">C</text>
<text x="1661.0" y="901.0" font-family="'Liberation Serif', serif" font-weight="bold" font-size="73" text-anchor="middle">B</text>
<text x="1658.0" y="1127.8" font-family="'Liberation Serif', serif" font-weight="bold" font-size="73" text-anchor="middle">A</text>
<text x="610" y="1554" font-family="'Liberation Serif', serif" font-weight="bold" font-size="92">Temperature (<tspan font-size="66" dx="1" dy="-37">o</tspan><tspan dx="2" dy="37">C)</tspan></text>
<text transform="translate(127,1042) rotate(-90)" x="0" y="0" font-family="'Liberation Serif', serif" font-weight="bold" font-size="92">Accounts (a.u.)</text>
</svg>
</body></html>
